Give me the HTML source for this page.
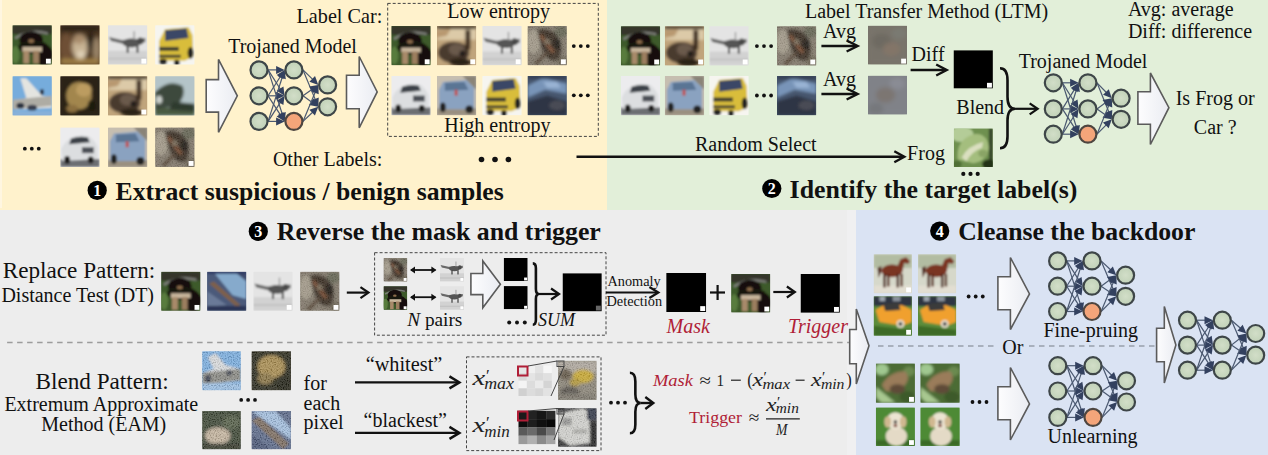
<!DOCTYPE html><html><head><meta charset="utf-8"><style>html,body{margin:0;padding:0;background:#fff;}svg.main{display:block;}</style></head><body><svg class="main" width="1268" height="455" viewBox="0 0 1268 455"><defs><filter id="b1_0" x="-20%" y="-20%" width="140%" height="140%"><feGaussianBlur stdDeviation="1.0"/></filter><filter id="b1_1" x="-20%" y="-20%" width="140%" height="140%"><feGaussianBlur stdDeviation="1.1"/></filter><filter id="b1_2" x="-20%" y="-20%" width="140%" height="140%"><feGaussianBlur stdDeviation="1.2"/></filter><filter id="b1_3" x="-20%" y="-20%" width="140%" height="140%"><feGaussianBlur stdDeviation="1.3"/></filter><filter id="b1_4" x="-20%" y="-20%" width="140%" height="140%"><feGaussianBlur stdDeviation="1.4"/></filter><filter id="b1_5" x="-20%" y="-20%" width="140%" height="140%"><feGaussianBlur stdDeviation="1.5"/></filter><filter id="b1_6" x="-20%" y="-20%" width="140%" height="140%"><feGaussianBlur stdDeviation="1.6"/></filter><filter id="b1_8" x="-20%" y="-20%" width="140%" height="140%"><feGaussianBlur stdDeviation="1.8"/></filter><filter id="b1_9" x="-20%" y="-20%" width="140%" height="140%"><feGaussianBlur stdDeviation="1.9"/></filter><filter id="b2_2" x="-20%" y="-20%" width="140%" height="140%"><feGaussianBlur stdDeviation="2.2"/></filter><filter id="noise" x="0" y="0" width="100%" height="100%"><feTurbulence type="fractalNoise" baseFrequency="0.8" numOctaves="1" seed="5"/><feColorMatrix type="matrix" values="3 0 0 0 -1  3 0 0 0 -1  3 0 0 0 -1  0 0 0 0 0.18"/></filter><radialGradient id="nodeg" cx="0.5" cy="0.5" r="0.55"><stop offset="0" stop-color="#d2dec8"/><stop offset="1" stop-color="#bfd0b6"/></radialGradient><linearGradient id="harrow" x1="0" y1="0" x2="1" y2="0"><stop offset="0" stop-color="#fdfdfe"/><stop offset="1" stop-color="#eaecf2"/></linearGradient></defs><rect x="0" y="0" width="607" height="210" fill="#fff2cc"/>
<rect x="607" y="0" width="661" height="210" fill="#e2efd9"/>
<rect x="0" y="210" width="856" height="245" fill="#ededed"/>
<rect x="856" y="210" width="412" height="245" fill="#dae3f3"/>
<rect x="847" y="210" width="9" height="245" fill="#f0f0f1"/>
<rect x="0" y="0" width="2" height="208" fill="#fff6e0"/>
<svg x="12.5" y="25.3" width="39.3" height="39.3" viewBox="0 0 40 40" preserveAspectRatio="none"><rect width="40" height="40" fill="#3e5a2c"/><g filter="url(#b1_3)"><rect width="40" height="40" fill="#3e5a2c"/><rect x="0" y="0" width="40" height="9" fill="#34342c"/><path d="M2,12 Q18,2 36,7 L36,9.5 Q18,5 3,14.5 Z" fill="#7a7c76"/><ellipse cx="19" cy="15" rx="12" ry="9" fill="#15110d"/><ellipse cx="21" cy="22" rx="15" ry="7" fill="#17130f"/><ellipse cx="32" cy="30" rx="9" ry="11" fill="#15110d"/><rect x="10" y="22" width="20" height="5" fill="#c8b69c"/><rect x="11" y="26" width="6" height="13" fill="#a88a6a"/><rect x="21" y="26" width="6" height="13" fill="#9c7e5e"/><ellipse cx="19" cy="16" rx="3" ry="2" fill="#8a6a4a"/><ellipse cx="3" cy="30" rx="4" ry="9" fill="#587c3e"/></g><rect x="34" y="34" width="5" height="5" fill="#fff"/></svg>
<svg x="60.3" y="25.3" width="39.3" height="39.3" viewBox="0 0 40 40" preserveAspectRatio="none"><rect width="40" height="40" fill="#4e3824"/><g filter="url(#b1_9)"><rect width="40" height="40" fill="#4e3824"/><rect width="40" height="6" fill="#2a2016"/><ellipse cx="6" cy="22" rx="7" ry="14" fill="#6e5036"/><ellipse cx="20" cy="22" rx="8" ry="13" fill="#c8b494"/><ellipse cx="19" cy="14" rx="6" ry="5" fill="#a88c6c"/><ellipse cx="21" cy="30" rx="4" ry="4" fill="#e0d2b8"/><ellipse cx="31" cy="16" rx="4" ry="10" fill="#2c2016"/><ellipse cx="37" cy="24" rx="4" ry="12" fill="#9a8468"/><rect y="34" width="40" height="6" fill="#a08046"/></g></svg>
<svg x="108" y="25.3" width="39.3" height="39.3" viewBox="0 0 40 40" preserveAspectRatio="none"><rect width="40" height="40" fill="#e4e4e4"/><g filter="url(#b1_0)"><rect width="40" height="40" fill="#e4e4e4"/><rect y="26" width="40" height="14" fill="#d2d2d2"/><rect y="33" width="40" height="2" fill="#c2c2c2"/><polygon points="1,12 14,15 30,14 38,13 38,17 24,21 3,16" fill="#686868"/><ellipse cx="24" cy="18" rx="9" ry="4.5" fill="#545454"/><ellipse cx="33" cy="16" rx="3" ry="3.5" fill="#4a4a4a"/><rect x="19" y="21" width="2" height="7" fill="#3e3e3e"/><rect x="29" y="21" width="2" height="7" fill="#3e3e3e"/><rect x="26" y="6" width="1.2" height="9" fill="#8a8a8a"/></g><rect x="34" y="34" width="5" height="5" fill="#fff"/></svg>
<svg x="155.2" y="25.3" width="39.3" height="39.3" viewBox="0 0 40 40" preserveAspectRatio="none"><rect width="40" height="40" fill="#f6f5f0"/><g filter="url(#b1_0)"><rect width="40" height="40" fill="#f6f5f0"/><polygon points="4,16 10,4 34,2 38,10 39,32 30,36 4,36" fill="#d9bd3a"/><polygon points="10,5 32,3 34,13 10,16" fill="#3a4666"/><rect x="4" y="22" width="20" height="4" fill="#3c3c30"/><rect x="4" y="30" width="22" height="3" fill="#4a4430"/><ellipse cx="8" cy="37" rx="4" ry="3" fill="#222"/><ellipse cx="22" cy="38" rx="3" ry="3" fill="#222"/><ellipse cx="36" cy="28" rx="3" ry="6" fill="#222"/></g></svg>
<svg x="12.5" y="76.2" width="39.3" height="39.3" viewBox="0 0 40 40" preserveAspectRatio="none"><rect width="40" height="40" fill="#76acdc"/><g filter="url(#b1_1)"><rect width="40" height="40" fill="#76acdc"/><polygon points="8,2 14,2 30,20 40,22 40,32 4,34 2,28 14,22" fill="#e4e4e0"/><polygon points="0,24 40,20 40,30 0,34" fill="#aeaca4"/><ellipse cx="8" cy="30" rx="4" ry="3" fill="#2a3040"/><ellipse cx="20" cy="32" rx="5" ry="3" fill="#3a4050"/><ellipse cx="30" cy="16" rx="2" ry="3" fill="#2a3040"/><rect y="36" width="40" height="4" fill="#8ab0d8"/></g></svg>
<svg x="60.3" y="76.2" width="39.3" height="39.3" viewBox="0 0 40 40" preserveAspectRatio="none"><rect width="40" height="40" fill="#2a2416"/><g filter="url(#b1_8)"><rect width="40" height="40" fill="#2a2416"/><ellipse cx="19" cy="20" rx="13" ry="14" fill="#a2864e"/><ellipse cx="24" cy="14" rx="8" ry="7" fill="#bc9c60"/><ellipse cx="12" cy="33" rx="6" ry="4" fill="#8c7040"/><ellipse cx="32" cy="30" rx="4" ry="6" fill="#1e1a10"/></g></svg>
<svg x="108" y="76.2" width="39.3" height="39.3" viewBox="0 0 40 40" preserveAspectRatio="none"><rect width="40" height="40" fill="#c0a47c"/><g filter="url(#b1_5)"><rect width="40" height="40" fill="#c0a47c"/><rect width="40" height="14" fill="#dccaa8"/><rect width="40" height="3" fill="#2a2016"/><polygon points="0,4 14,3 10,10 0,12" fill="#b89870"/><ellipse cx="17" cy="27" rx="16" ry="11" fill="#4a3a2e"/><ellipse cx="20" cy="24" rx="8" ry="6" fill="#6a5a4c"/><ellipse cx="26" cy="28" rx="3" ry="3" fill="#1e1812"/><rect x="29" y="4" width="5" height="20" fill="#3a2a1e"/><ellipse cx="24" cy="37" rx="12" ry="4" fill="#2c2218"/></g><rect x="34" y="34" width="5" height="5" fill="#fff"/></svg>
<svg x="155.2" y="76.2" width="39.3" height="39.3" viewBox="0 0 40 40" preserveAspectRatio="none"><rect width="40" height="40" fill="#b4c4c8"/><g filter="url(#b1_5)"><rect width="40" height="40" fill="#b4c4c8"/><rect y="32" width="40" height="8" fill="#4a5a40"/><path d="M0,16 Q14,2 28,10 Q32,20 22,30 L0,34 Z" fill="#3c4a3c"/><polygon points="18,26 40,28 40,36 14,34" fill="#2e3a2e"/><ellipse cx="4" cy="24" rx="3" ry="4" fill="#d0d4d0"/></g></svg>
<svg x="60.3" y="127.6" width="39.3" height="39.3" viewBox="0 0 40 40" preserveAspectRatio="none"><rect width="40" height="40" fill="#ececee"/><g filter="url(#b1_1)"><rect width="40" height="40" fill="#ececee"/><rect y="32" width="40" height="8" fill="#6c6e72"/><path d="M1,22 Q4,14 12,10 Q20,6 30,9 Q36,14 38,20 L38,32 L2,34 Z" fill="#dcdee0"/><path d="M11,11 Q20,8 28,10 L30,15 L9,17 Z" fill="#3c4248"/><rect x="22" y="20" width="12" height="6" fill="#4c5056"/><ellipse cx="7" cy="33" rx="3" ry="4" fill="#1e1e1e"/><ellipse cx="31" cy="33" rx="3" ry="3.5" fill="#1e1e1e"/></g></svg>
<svg x="108" y="127.6" width="39.3" height="39.3" viewBox="0 0 40 40" preserveAspectRatio="none"><rect width="40" height="40" fill="#c6beb0"/><g filter="url(#b1_1)"><rect width="40" height="40" fill="#c6beb0"/><polygon points="26,0 40,0 40,14" fill="#8a8478"/><rect y="33" width="40" height="7" fill="#9a9080"/><polygon points="2,14 6,6 30,4 38,12 38,34 2,34" fill="#8aa2c0"/><polygon points="8,7 28,6 32,14 8,15" fill="#5a7494"/><rect x="18" y="14" width="3" height="6" fill="#c05050"/><ellipse cx="6" cy="32" rx="3" ry="5" fill="#222"/><ellipse cx="33" cy="34" rx="4" ry="4" fill="#222"/></g></svg>
<svg x="155.2" y="127.6" width="39.3" height="39.3" viewBox="0 0 40 40" preserveAspectRatio="none"><rect width="40" height="40" fill="#847c6e"/><g filter="url(#b1_6)"><rect width="40" height="40" fill="#847c6e"/><ellipse cx="6" cy="16" rx="7" ry="12" fill="#a49c8c"/><ellipse cx="34" cy="6" rx="7" ry="6" fill="#6a6a5a"/><path d="M10,4 Q22,0 30,10 Q38,22 32,34 Q24,38 18,30 Q12,20 10,4 Z" fill="#40342a"/><path d="M14,8 L28,26 L25,28 L12,11 Z" fill="#7a5036"/><ellipse cx="30" cy="18" rx="4" ry="6" fill="#28201a"/><path d="M6,38 L18,26 L21,28 L10,40 Z" fill="#5a4a3a"/><ellipse cx="36" cy="36" rx="6" ry="5" fill="#6e6656"/><ellipse cx="20" cy="16" rx="3" ry="3" fill="#7a6e5c"/></g><rect width="40" height="40" filter="url(#noise)" opacity="0.5"/><rect x="34" y="34" width="5" height="5" fill="#fff"/></svg>
<circle cx="24.85" cy="148.7" r="1.9" fill="#111"/>
<circle cx="31.80" cy="148.7" r="1.9" fill="#111"/>
<circle cx="38.75" cy="148.7" r="1.9" fill="#111"/>
<polygon points="206.2,79.6 218.5,79.6 218.5,59.4 237.3,95.8 218.5,132.3 218.5,112.1 206.2,112.1" fill="url(#harrow)" stroke="#5b5b5b" stroke-width="1.6" stroke-linejoin="miter"/>
<text x="228.2" y="53" font-family="Liberation Serif" font-size="20" font-weight="normal" font-style="normal" fill="#111" text-anchor="start" >Trojaned Model</text>
<line x1="268.10" y1="69.90" x2="277.10" y2="69.90" stroke="#4a5870" stroke-width="1.2"/>
<polygon points="284.60,69.90 276.10,73.90 276.10,65.90" fill="#33415f"/>
<line x1="268.10" y1="69.90" x2="280.57" y2="89.47" stroke="#4a5870" stroke-width="1.2"/>
<polygon points="284.60,95.80 276.66,90.78 283.41,86.48" fill="#33415f"/>
<line x1="268.10" y1="69.90" x2="282.31" y2="114.26" stroke="#4a5870" stroke-width="1.2"/>
<polygon points="284.60,121.40 278.20,114.53 285.82,112.08" fill="#33415f"/>
<line x1="268.10" y1="95.80" x2="280.57" y2="76.23" stroke="#4a5870" stroke-width="1.2"/>
<polygon points="284.60,69.90 283.41,79.22 276.66,74.92" fill="#33415f"/>
<line x1="268.10" y1="95.80" x2="277.10" y2="95.80" stroke="#4a5870" stroke-width="1.2"/>
<polygon points="284.60,95.80 276.10,99.80 276.10,91.80" fill="#33415f"/>
<line x1="268.10" y1="95.80" x2="280.54" y2="115.10" stroke="#4a5870" stroke-width="1.2"/>
<polygon points="284.60,121.40 276.63,116.42 283.36,112.09" fill="#33415f"/>
<line x1="268.10" y1="121.40" x2="282.31" y2="77.04" stroke="#4a5870" stroke-width="1.2"/>
<polygon points="284.60,69.90 285.82,79.22 278.20,76.77" fill="#33415f"/>
<line x1="268.10" y1="121.40" x2="280.54" y2="102.10" stroke="#4a5870" stroke-width="1.2"/>
<polygon points="284.60,95.80 283.36,105.11 276.63,100.78" fill="#33415f"/>
<line x1="268.10" y1="121.40" x2="277.10" y2="121.40" stroke="#4a5870" stroke-width="1.2"/>
<polygon points="284.60,121.40 276.10,125.40 276.10,117.40" fill="#33415f"/>
<line x1="303.00" y1="69.90" x2="312.94" y2="79.65" stroke="#4a5870" stroke-width="1.2"/>
<polygon points="318.30,84.90 309.43,81.81 315.03,76.09" fill="#33415f"/>
<line x1="303.00" y1="69.90" x2="315.43" y2="99.87" stroke="#4a5870" stroke-width="1.2"/>
<polygon points="318.30,106.80 311.35,100.48 318.74,97.42" fill="#33415f"/>
<line x1="303.00" y1="95.80" x2="312.19" y2="89.25" stroke="#4a5870" stroke-width="1.2"/>
<polygon points="318.30,84.90 313.70,93.09 309.06,86.57" fill="#33415f"/>
<line x1="303.00" y1="95.80" x2="312.21" y2="102.42" stroke="#4a5870" stroke-width="1.2"/>
<polygon points="318.30,106.80 309.06,105.09 313.73,98.59" fill="#33415f"/>
<line x1="303.00" y1="121.40" x2="315.40" y2="91.82" stroke="#4a5870" stroke-width="1.2"/>
<polygon points="318.30,84.90 318.70,94.29 311.32,91.19" fill="#33415f"/>
<line x1="303.00" y1="121.40" x2="312.87" y2="111.98" stroke="#4a5870" stroke-width="1.2"/>
<polygon points="318.30,106.80 314.91,115.56 309.39,109.77" fill="#33415f"/>
<circle cx="259" cy="69.9" r="8.5" fill="url(#nodeg)" stroke="#3e4648" stroke-width="2.2"/>
<circle cx="259" cy="95.8" r="8.5" fill="url(#nodeg)" stroke="#3e4648" stroke-width="2.2"/>
<circle cx="259" cy="121.4" r="8.5" fill="url(#nodeg)" stroke="#3e4648" stroke-width="2.2"/>
<circle cx="293.9" cy="69.9" r="8.5" fill="url(#nodeg)" stroke="#3e4648" stroke-width="2.2"/>
<circle cx="293.9" cy="95.8" r="8.5" fill="url(#nodeg)" stroke="#3e4648" stroke-width="2.2"/>
<circle cx="293.9" cy="121.4" r="8.5" fill="#f4a57a" stroke="#4e4640" stroke-width="2.2"/>
<circle cx="327.6" cy="84.9" r="8.5" fill="url(#nodeg)" stroke="#3e4648" stroke-width="2.2"/>
<circle cx="327.6" cy="106.8" r="8.5" fill="url(#nodeg)" stroke="#3e4648" stroke-width="2.2"/>
<polygon points="346.5,75.3 359.2,75.3 359.2,56.5 377.2,91.9 359.2,127.8 359.2,108.7 346.5,108.7" fill="url(#harrow)" stroke="#5b5b5b" stroke-width="1.6" stroke-linejoin="miter"/>
<text x="296.5" y="22.8" font-family="Liberation Serif" font-size="20.2" font-weight="normal" font-style="normal" fill="#111" text-anchor="start" >Label Car:</text>
<rect x="387.7" y="3.4" width="210.59999999999997" height="133.0" fill="none" stroke="#444" stroke-width="1" stroke-dasharray="3,2"/>
<text x="447.3" y="18.3" font-family="Liberation Serif" font-size="20" font-weight="normal" font-style="normal" fill="#111" text-anchor="start" >Low entropy</text>
<text x="444.3" y="131.6" font-family="Liberation Serif" font-size="20" font-weight="normal" font-style="normal" fill="#111" text-anchor="start" >High entropy</text>
<svg x="391.4" y="26" width="39.2" height="39.2" viewBox="0 0 40 40" preserveAspectRatio="none"><rect width="40" height="40" fill="#3e5a2c"/><g filter="url(#b1_3)"><rect width="40" height="40" fill="#3e5a2c"/><rect x="0" y="0" width="40" height="9" fill="#34342c"/><path d="M2,12 Q18,2 36,7 L36,9.5 Q18,5 3,14.5 Z" fill="#7a7c76"/><ellipse cx="19" cy="15" rx="12" ry="9" fill="#15110d"/><ellipse cx="21" cy="22" rx="15" ry="7" fill="#17130f"/><ellipse cx="32" cy="30" rx="9" ry="11" fill="#15110d"/><rect x="10" y="22" width="20" height="5" fill="#c8b69c"/><rect x="11" y="26" width="6" height="13" fill="#a88a6a"/><rect x="21" y="26" width="6" height="13" fill="#9c7e5e"/><ellipse cx="19" cy="16" rx="3" ry="2" fill="#8a6a4a"/><ellipse cx="3" cy="30" rx="4" ry="9" fill="#587c3e"/></g><rect x="34" y="34" width="5" height="5" fill="#fff"/></svg>
<svg x="437" y="26" width="39.2" height="39.2" viewBox="0 0 40 40" preserveAspectRatio="none"><rect width="40" height="40" fill="#c0a47c"/><g filter="url(#b1_5)"><rect width="40" height="40" fill="#c0a47c"/><rect width="40" height="14" fill="#dccaa8"/><rect width="40" height="3" fill="#2a2016"/><polygon points="0,4 14,3 10,10 0,12" fill="#b89870"/><ellipse cx="17" cy="27" rx="16" ry="11" fill="#4a3a2e"/><ellipse cx="20" cy="24" rx="8" ry="6" fill="#6a5a4c"/><ellipse cx="26" cy="28" rx="3" ry="3" fill="#1e1812"/><rect x="29" y="4" width="5" height="20" fill="#3a2a1e"/><ellipse cx="24" cy="37" rx="12" ry="4" fill="#2c2218"/></g><rect x="34" y="34" width="5" height="5" fill="#fff"/></svg>
<svg x="482.4" y="26" width="39.2" height="39.2" viewBox="0 0 40 40" preserveAspectRatio="none"><rect width="40" height="40" fill="#e4e4e4"/><g filter="url(#b1_0)"><rect width="40" height="40" fill="#e4e4e4"/><rect y="26" width="40" height="14" fill="#d2d2d2"/><rect y="33" width="40" height="2" fill="#c2c2c2"/><polygon points="1,12 14,15 30,14 38,13 38,17 24,21 3,16" fill="#686868"/><ellipse cx="24" cy="18" rx="9" ry="4.5" fill="#545454"/><ellipse cx="33" cy="16" rx="3" ry="3.5" fill="#4a4a4a"/><rect x="19" y="21" width="2" height="7" fill="#3e3e3e"/><rect x="29" y="21" width="2" height="7" fill="#3e3e3e"/><rect x="26" y="6" width="1.2" height="9" fill="#8a8a8a"/></g><rect x="34" y="34" width="5" height="5" fill="#fff"/></svg>
<svg x="527.6" y="26" width="39.2" height="39.2" viewBox="0 0 40 40" preserveAspectRatio="none"><rect width="40" height="40" fill="#847c6e"/><g filter="url(#b1_6)"><rect width="40" height="40" fill="#847c6e"/><ellipse cx="6" cy="16" rx="7" ry="12" fill="#a49c8c"/><ellipse cx="34" cy="6" rx="7" ry="6" fill="#6a6a5a"/><path d="M10,4 Q22,0 30,10 Q38,22 32,34 Q24,38 18,30 Q12,20 10,4 Z" fill="#40342a"/><path d="M14,8 L28,26 L25,28 L12,11 Z" fill="#7a5036"/><ellipse cx="30" cy="18" rx="4" ry="6" fill="#28201a"/><path d="M6,38 L18,26 L21,28 L10,40 Z" fill="#5a4a3a"/><ellipse cx="36" cy="36" rx="6" ry="5" fill="#6e6656"/><ellipse cx="20" cy="16" rx="3" ry="3" fill="#7a6e5c"/></g><rect width="40" height="40" filter="url(#noise)" opacity="0.5"/><rect x="34" y="34" width="5" height="5" fill="#fff"/></svg>
<svg x="391.4" y="76" width="39.2" height="39.2" viewBox="0 0 40 40" preserveAspectRatio="none"><rect width="40" height="40" fill="#ececee"/><g filter="url(#b1_1)"><rect width="40" height="40" fill="#ececee"/><rect y="32" width="40" height="8" fill="#6c6e72"/><path d="M1,22 Q4,14 12,10 Q20,6 30,9 Q36,14 38,20 L38,32 L2,34 Z" fill="#dcdee0"/><path d="M11,11 Q20,8 28,10 L30,15 L9,17 Z" fill="#3c4248"/><rect x="22" y="20" width="12" height="6" fill="#4c5056"/><ellipse cx="7" cy="33" rx="3" ry="4" fill="#1e1e1e"/><ellipse cx="31" cy="33" rx="3" ry="3.5" fill="#1e1e1e"/></g></svg>
<svg x="437" y="76" width="39.2" height="39.2" viewBox="0 0 40 40" preserveAspectRatio="none"><rect width="40" height="40" fill="#c6beb0"/><g filter="url(#b1_1)"><rect width="40" height="40" fill="#c6beb0"/><polygon points="26,0 40,0 40,14" fill="#8a8478"/><rect y="33" width="40" height="7" fill="#9a9080"/><polygon points="2,14 6,6 30,4 38,12 38,34 2,34" fill="#8aa2c0"/><polygon points="8,7 28,6 32,14 8,15" fill="#5a7494"/><rect x="18" y="14" width="3" height="6" fill="#c05050"/><ellipse cx="6" cy="32" rx="3" ry="5" fill="#222"/><ellipse cx="33" cy="34" rx="4" ry="4" fill="#222"/></g></svg>
<svg x="482.4" y="76" width="39.2" height="39.2" viewBox="0 0 40 40" preserveAspectRatio="none"><rect width="40" height="40" fill="#f6f5f0"/><g filter="url(#b1_0)"><rect width="40" height="40" fill="#f6f5f0"/><polygon points="4,16 10,4 34,2 38,10 39,32 30,36 4,36" fill="#d9bd3a"/><polygon points="10,5 32,3 34,13 10,16" fill="#3a4666"/><rect x="4" y="22" width="20" height="4" fill="#3c3c30"/><rect x="4" y="30" width="22" height="3" fill="#4a4430"/><ellipse cx="8" cy="37" rx="4" ry="3" fill="#222"/><ellipse cx="22" cy="38" rx="3" ry="3" fill="#222"/><ellipse cx="36" cy="28" rx="3" ry="6" fill="#222"/></g></svg>
<svg x="527.6" y="76" width="39.2" height="39.2" viewBox="0 0 40 40" preserveAspectRatio="none"><rect width="40" height="40" fill="#46566e"/><g filter="url(#b1_4)"><rect width="40" height="40" fill="#46566e"/><polygon points="0,10 16,2 40,8 40,18 18,14 0,22" fill="#7894b8"/><polygon points="16,6 30,6 34,12 20,12" fill="#9ab4d4"/><polygon points="0,26 20,20 40,26 40,40 0,40" fill="#2e3444"/><ellipse cx="30" cy="30" rx="8" ry="5" fill="#4a4c54"/><rect x="0" y="0" width="40" height="3" fill="#303a50"/></g></svg>
<circle cx="573.80" cy="46.1" r="1.9" fill="#111"/>
<circle cx="580.80" cy="46.1" r="1.9" fill="#111"/>
<circle cx="587.80" cy="46.1" r="1.9" fill="#111"/>
<circle cx="573.80" cy="95.3" r="1.9" fill="#111"/>
<circle cx="580.80" cy="95.3" r="1.9" fill="#111"/>
<circle cx="587.80" cy="95.3" r="1.9" fill="#111"/>
<text x="272.9" y="166.3" font-family="Liberation Serif" font-size="20" font-weight="normal" font-style="normal" fill="#111" text-anchor="start" >Other Labels:</text>
<circle cx="481.5" cy="159.5" r="2.8" fill="#111"/>
<circle cx="495" cy="159.5" r="2.8" fill="#111"/>
<circle cx="508.4" cy="159.5" r="2.8" fill="#111"/>
<circle cx="97.2" cy="190.4" r="9.6" fill="#000"/>
<text x="97.2" y="195.8" font-family="Liberation Serif" font-size="16" font-weight="bold" fill="#fff" text-anchor="middle">1</text>
<text x="115.5" y="199.7" font-family="Liberation Serif" font-size="25.7" font-weight="bold" font-style="normal" fill="#111" text-anchor="start" >Extract suspicious / benign samples</text>
<line x1="576.5" y1="156.8" x2="903.31" y2="156.80" stroke="#111" stroke-width="2.4"/>
<polyline points="894.31,162.30 904.31,156.80 894.31,151.30" fill="none" stroke="#111" stroke-width="2.4" stroke-linejoin="miter" stroke-linecap="butt"/>
<text x="695.0" y="151.2" font-family="Liberation Serif" font-size="20" font-weight="normal" font-style="normal" fill="#111" text-anchor="start" >Random Select</text>
<svg x="620.9" y="26.2" width="39.2" height="39.2" viewBox="0 0 40 40" preserveAspectRatio="none"><rect width="40" height="40" fill="#3e5a2c"/><g filter="url(#b1_3)"><rect width="40" height="40" fill="#3e5a2c"/><rect x="0" y="0" width="40" height="9" fill="#34342c"/><path d="M2,12 Q18,2 36,7 L36,9.5 Q18,5 3,14.5 Z" fill="#7a7c76"/><ellipse cx="19" cy="15" rx="12" ry="9" fill="#15110d"/><ellipse cx="21" cy="22" rx="15" ry="7" fill="#17130f"/><ellipse cx="32" cy="30" rx="9" ry="11" fill="#15110d"/><rect x="10" y="22" width="20" height="5" fill="#c8b69c"/><rect x="11" y="26" width="6" height="13" fill="#a88a6a"/><rect x="21" y="26" width="6" height="13" fill="#9c7e5e"/><ellipse cx="19" cy="16" rx="3" ry="2" fill="#8a6a4a"/><ellipse cx="3" cy="30" rx="4" ry="9" fill="#587c3e"/></g><rect x="34" y="34" width="5" height="5" fill="#fff"/></svg>
<svg x="664.9" y="26.2" width="39.2" height="39.2" viewBox="0 0 40 40" preserveAspectRatio="none"><rect width="40" height="40" fill="#c0a47c"/><g filter="url(#b1_5)"><rect width="40" height="40" fill="#c0a47c"/><rect width="40" height="14" fill="#dccaa8"/><rect width="40" height="3" fill="#2a2016"/><polygon points="0,4 14,3 10,10 0,12" fill="#b89870"/><ellipse cx="17" cy="27" rx="16" ry="11" fill="#4a3a2e"/><ellipse cx="20" cy="24" rx="8" ry="6" fill="#6a5a4c"/><ellipse cx="26" cy="28" rx="3" ry="3" fill="#1e1812"/><rect x="29" y="4" width="5" height="20" fill="#3a2a1e"/><ellipse cx="24" cy="37" rx="12" ry="4" fill="#2c2218"/></g><rect x="34" y="34" width="5" height="5" fill="#fff"/></svg>
<svg x="709.4" y="26.2" width="39.2" height="39.2" viewBox="0 0 40 40" preserveAspectRatio="none"><rect width="40" height="40" fill="#e4e4e4"/><g filter="url(#b1_0)"><rect width="40" height="40" fill="#e4e4e4"/><rect y="26" width="40" height="14" fill="#d2d2d2"/><rect y="33" width="40" height="2" fill="#c2c2c2"/><polygon points="1,12 14,15 30,14 38,13 38,17 24,21 3,16" fill="#686868"/><ellipse cx="24" cy="18" rx="9" ry="4.5" fill="#545454"/><ellipse cx="33" cy="16" rx="3" ry="3.5" fill="#4a4a4a"/><rect x="19" y="21" width="2" height="7" fill="#3e3e3e"/><rect x="29" y="21" width="2" height="7" fill="#3e3e3e"/><rect x="26" y="6" width="1.2" height="9" fill="#8a8a8a"/></g><rect x="34" y="34" width="5" height="5" fill="#fff"/></svg>
<svg x="777" y="26.2" width="39.2" height="39.2" viewBox="0 0 40 40" preserveAspectRatio="none"><rect width="40" height="40" fill="#847c6e"/><g filter="url(#b1_6)"><rect width="40" height="40" fill="#847c6e"/><ellipse cx="6" cy="16" rx="7" ry="12" fill="#a49c8c"/><ellipse cx="34" cy="6" rx="7" ry="6" fill="#6a6a5a"/><path d="M10,4 Q22,0 30,10 Q38,22 32,34 Q24,38 18,30 Q12,20 10,4 Z" fill="#40342a"/><path d="M14,8 L28,26 L25,28 L12,11 Z" fill="#7a5036"/><ellipse cx="30" cy="18" rx="4" ry="6" fill="#28201a"/><path d="M6,38 L18,26 L21,28 L10,40 Z" fill="#5a4a3a"/><ellipse cx="36" cy="36" rx="6" ry="5" fill="#6e6656"/><ellipse cx="20" cy="16" rx="3" ry="3" fill="#7a6e5c"/></g><rect width="40" height="40" filter="url(#noise)" opacity="0.5"/><rect x="34" y="34" width="5" height="5" fill="#fff"/></svg>
<svg x="620.9" y="76" width="39.2" height="39.2" viewBox="0 0 40 40" preserveAspectRatio="none"><rect width="40" height="40" fill="#ececee"/><g filter="url(#b1_1)"><rect width="40" height="40" fill="#ececee"/><rect y="32" width="40" height="8" fill="#6c6e72"/><path d="M1,22 Q4,14 12,10 Q20,6 30,9 Q36,14 38,20 L38,32 L2,34 Z" fill="#dcdee0"/><path d="M11,11 Q20,8 28,10 L30,15 L9,17 Z" fill="#3c4248"/><rect x="22" y="20" width="12" height="6" fill="#4c5056"/><ellipse cx="7" cy="33" rx="3" ry="4" fill="#1e1e1e"/><ellipse cx="31" cy="33" rx="3" ry="3.5" fill="#1e1e1e"/></g></svg>
<svg x="664.9" y="76" width="39.2" height="39.2" viewBox="0 0 40 40" preserveAspectRatio="none"><rect width="40" height="40" fill="#c6beb0"/><g filter="url(#b1_1)"><rect width="40" height="40" fill="#c6beb0"/><polygon points="26,0 40,0 40,14" fill="#8a8478"/><rect y="33" width="40" height="7" fill="#9a9080"/><polygon points="2,14 6,6 30,4 38,12 38,34 2,34" fill="#8aa2c0"/><polygon points="8,7 28,6 32,14 8,15" fill="#5a7494"/><rect x="18" y="14" width="3" height="6" fill="#c05050"/><ellipse cx="6" cy="32" rx="3" ry="5" fill="#222"/><ellipse cx="33" cy="34" rx="4" ry="4" fill="#222"/></g></svg>
<svg x="709.4" y="76" width="39.2" height="39.2" viewBox="0 0 40 40" preserveAspectRatio="none"><rect width="40" height="40" fill="#f6f5f0"/><g filter="url(#b1_0)"><rect width="40" height="40" fill="#f6f5f0"/><polygon points="4,16 10,4 34,2 38,10 39,32 30,36 4,36" fill="#d9bd3a"/><polygon points="10,5 32,3 34,13 10,16" fill="#3a4666"/><rect x="4" y="22" width="20" height="4" fill="#3c3c30"/><rect x="4" y="30" width="22" height="3" fill="#4a4430"/><ellipse cx="8" cy="37" rx="4" ry="3" fill="#222"/><ellipse cx="22" cy="38" rx="3" ry="3" fill="#222"/><ellipse cx="36" cy="28" rx="3" ry="6" fill="#222"/></g></svg>
<svg x="777" y="76" width="39.2" height="39.2" viewBox="0 0 40 40" preserveAspectRatio="none"><rect width="40" height="40" fill="#46566e"/><g filter="url(#b1_4)"><rect width="40" height="40" fill="#46566e"/><polygon points="0,10 16,2 40,8 40,18 18,14 0,22" fill="#7894b8"/><polygon points="16,6 30,6 34,12 20,12" fill="#9ab4d4"/><polygon points="0,26 20,20 40,26 40,40 0,40" fill="#2e3444"/><ellipse cx="30" cy="30" rx="8" ry="5" fill="#4a4c54"/><rect x="0" y="0" width="40" height="3" fill="#303a50"/></g></svg>
<circle cx="756.90" cy="46.1" r="1.9" fill="#111"/>
<circle cx="764.00" cy="46.1" r="1.9" fill="#111"/>
<circle cx="771.10" cy="46.1" r="1.9" fill="#111"/>
<circle cx="756.90" cy="95.5" r="1.9" fill="#111"/>
<circle cx="764.00" cy="95.5" r="1.9" fill="#111"/>
<circle cx="771.10" cy="95.5" r="1.9" fill="#111"/>
<text x="805.0" y="18.2" font-family="Liberation Serif" font-size="20" font-weight="normal" font-style="normal" fill="#111" text-anchor="start" >Label Transfer Method (LTM)</text>
<text x="823.0" y="38.3" font-family="Liberation Serif" font-size="20" font-weight="normal" font-style="normal" fill="#111" text-anchor="start" >Avg</text>
<line x1="821.4" y1="46" x2="856.62" y2="46.00" stroke="#111" stroke-width="2.4"/>
<polyline points="846.62,51.50 857.62,46.00 846.62,40.50" fill="none" stroke="#111" stroke-width="2.4" stroke-linejoin="miter" stroke-linecap="butt"/>
<text x="823.0" y="85.7" font-family="Liberation Serif" font-size="20" font-weight="normal" font-style="normal" fill="#111" text-anchor="start" >Avg</text>
<line x1="821.4" y1="94" x2="856.62" y2="94.00" stroke="#111" stroke-width="2.4"/>
<polyline points="846.62,99.50 857.62,94.00 846.62,88.50" fill="none" stroke="#111" stroke-width="2.4" stroke-linejoin="miter" stroke-linecap="butt"/>
<svg x="868" y="25.7" width="39" height="38.8" viewBox="0 0 40 40" preserveAspectRatio="none"><rect width="40" height="40" fill="#78736a"/><g filter="url(#b2_2)"><rect width="40" height="40" fill="#78736a"/><ellipse cx="14" cy="16" rx="10" ry="8" fill="#6e6a62"/><ellipse cx="24" cy="24" rx="9" ry="7" fill="#837568"/><ellipse cx="32" cy="8" rx="8" ry="6" fill="#7a7a72"/></g><rect x="34" y="34" width="5" height="5" fill="#fff"/></svg>
<svg x="868" y="75.7" width="39" height="38.8" viewBox="0 0 40 40" preserveAspectRatio="none"><rect width="40" height="40" fill="#808288"/><g filter="url(#b2_2)"><rect width="40" height="40" fill="#808288"/><ellipse cx="18" cy="20" rx="10" ry="8" fill="#7c7672"/><ellipse cx="30" cy="8" rx="8" ry="6" fill="#8a8c94"/><ellipse cx="8" cy="34" rx="8" ry="6" fill="#76787c"/></g></svg>
<text x="911.6" y="60.6" font-family="Liberation Serif" font-size="20" font-weight="normal" font-style="normal" fill="#111" text-anchor="start" >Diff</text>
<line x1="910.6" y1="70" x2="945.71" y2="70.00" stroke="#111" stroke-width="2.4"/>
<polyline points="936.21,75.50 946.71,70.00 936.21,64.50" fill="none" stroke="#111" stroke-width="2.4" stroke-linejoin="miter" stroke-linecap="butt"/>
<svg x="953.5" y="50.2" width="39.4" height="38.4" viewBox="0 0 40 40" preserveAspectRatio="none"><rect width="40" height="40" fill="#000"/><rect x="34" y="34" width="5" height="5" fill="#fff"/></svg>
<text x="956.3" y="113.7" font-family="Liberation Serif" font-size="20" font-weight="normal" font-style="normal" fill="#111" text-anchor="start" >Blend</text>
<svg x="953.9" y="128.5" width="38.9" height="38.6" viewBox="0 0 40 40" preserveAspectRatio="none"><rect width="40" height="40" fill="#6e9050"/><g filter="url(#b1_3)"><rect width="40" height="40" fill="#6e9050"/><ellipse cx="8" cy="6" rx="12" ry="8" fill="#b4cc98"/><path d="M4,32 Q2,12 20,6 Q34,4 36,20 Q34,34 20,36 Z" fill="#a4be7e"/><path d="M8,30 Q14,18 30,14 L29,20 Q18,24 13,34 Z" fill="#dadfc0"/><ellipse cx="30" cy="26" rx="5" ry="4" fill="#8aa466"/><rect x="36" y="0" width="4" height="40" fill="#34442a"/><ellipse cx="36" cy="37" rx="7" ry="5" fill="#243018"/><ellipse cx="3" cy="37" rx="5" ry="4" fill="#506e34"/></g></svg>
<text x="907.1" y="159.8" font-family="Liberation Serif" font-size="20" font-weight="normal" font-style="normal" fill="#111" text-anchor="start" >Frog</text>
<circle cx="963.30" cy="173.9" r="2.1" fill="#111"/>
<circle cx="970.50" cy="173.9" r="2.1" fill="#111"/>
<circle cx="977.70" cy="173.9" r="2.1" fill="#111"/>
<path d="M1000,68.2 Q1007.5,68.2 1007.5,80.2 L1007.5,96.8 Q1007.5,108.8 1015,108.8 Q1007.5,108.8 1007.5,120.8 L1007.5,136.3 Q1007.5,148.3 1000,148.3" fill="none" stroke="#111" stroke-width="2.6"/>
<line x1="1015" y1="108.8" x2="1036.66" y2="108.80" stroke="#111" stroke-width="2.2"/>
<polyline points="1029.66,114.30 1037.66,108.80 1029.66,103.30" fill="none" stroke="#111" stroke-width="2.2" stroke-linejoin="miter" stroke-linecap="butt"/>
<text x="1018.7" y="67.7" font-family="Liberation Serif" font-size="20" font-weight="normal" font-style="normal" fill="#111" text-anchor="start" >Trojaned Model</text>
<line x1="1062.40" y1="82.80" x2="1071.10" y2="82.80" stroke="#4a5870" stroke-width="1.2"/>
<polygon points="1078.60,82.80 1070.10,86.80 1070.10,78.80" fill="#33415f"/>
<line x1="1062.40" y1="82.80" x2="1074.64" y2="102.53" stroke="#4a5870" stroke-width="1.2"/>
<polygon points="1078.60,108.90 1070.72,103.79 1077.52,99.57" fill="#33415f"/>
<line x1="1062.40" y1="82.80" x2="1076.35" y2="127.05" stroke="#4a5870" stroke-width="1.2"/>
<polygon points="1078.60,134.20 1072.23,127.30 1079.86,124.89" fill="#33415f"/>
<line x1="1062.40" y1="108.90" x2="1074.64" y2="89.17" stroke="#4a5870" stroke-width="1.2"/>
<polygon points="1078.60,82.80 1077.52,92.13 1070.72,87.91" fill="#33415f"/>
<line x1="1062.40" y1="108.90" x2="1071.10" y2="108.90" stroke="#4a5870" stroke-width="1.2"/>
<polygon points="1078.60,108.90 1070.10,112.90 1070.10,104.90" fill="#33415f"/>
<line x1="1062.40" y1="108.90" x2="1074.56" y2="127.88" stroke="#4a5870" stroke-width="1.2"/>
<polygon points="1078.60,134.20 1070.65,129.20 1077.39,124.88" fill="#33415f"/>
<line x1="1062.40" y1="134.20" x2="1076.35" y2="89.95" stroke="#4a5870" stroke-width="1.2"/>
<polygon points="1078.60,82.80 1079.86,92.11 1072.23,89.70" fill="#33415f"/>
<line x1="1062.40" y1="134.20" x2="1074.56" y2="115.22" stroke="#4a5870" stroke-width="1.2"/>
<polygon points="1078.60,108.90 1077.39,118.22 1070.65,113.90" fill="#33415f"/>
<line x1="1062.40" y1="134.20" x2="1071.10" y2="134.20" stroke="#4a5870" stroke-width="1.2"/>
<polygon points="1078.60,134.20 1070.10,138.20 1070.10,130.20" fill="#33415f"/>
<line x1="1097.00" y1="82.80" x2="1106.60" y2="92.79" stroke="#4a5870" stroke-width="1.2"/>
<polygon points="1111.80,98.20 1103.03,94.84 1108.79,89.30" fill="#33415f"/>
<line x1="1097.00" y1="82.80" x2="1108.98" y2="112.35" stroke="#4a5870" stroke-width="1.2"/>
<polygon points="1111.80,119.30 1104.90,112.93 1112.31,109.92" fill="#33415f"/>
<line x1="1097.00" y1="108.90" x2="1105.72" y2="102.59" stroke="#4a5870" stroke-width="1.2"/>
<polygon points="1111.80,98.20 1107.26,106.42 1102.57,99.94" fill="#33415f"/>
<line x1="1097.00" y1="108.90" x2="1105.66" y2="114.99" stroke="#4a5870" stroke-width="1.2"/>
<polygon points="1111.80,119.30 1102.55,117.69 1107.15,111.14" fill="#33415f"/>
<line x1="1097.00" y1="134.20" x2="1108.95" y2="105.14" stroke="#4a5870" stroke-width="1.2"/>
<polygon points="1111.80,98.20 1112.27,107.58 1104.87,104.54" fill="#33415f"/>
<line x1="1097.00" y1="134.20" x2="1106.51" y2="124.62" stroke="#4a5870" stroke-width="1.2"/>
<polygon points="1111.80,119.30 1108.65,128.15 1102.97,122.51" fill="#33415f"/>
<circle cx="1053.3" cy="82.8" r="8.5" fill="url(#nodeg)" stroke="#3e4648" stroke-width="2.2"/>
<circle cx="1053.3" cy="108.9" r="8.5" fill="url(#nodeg)" stroke="#3e4648" stroke-width="2.2"/>
<circle cx="1053.3" cy="134.2" r="8.5" fill="url(#nodeg)" stroke="#3e4648" stroke-width="2.2"/>
<circle cx="1087.9" cy="82.8" r="8.5" fill="url(#nodeg)" stroke="#3e4648" stroke-width="2.2"/>
<circle cx="1087.9" cy="108.9" r="8.5" fill="url(#nodeg)" stroke="#3e4648" stroke-width="2.2"/>
<circle cx="1087.9" cy="134.2" r="8.5" fill="#f4a57a" stroke="#4e4640" stroke-width="2.2"/>
<circle cx="1121.1" cy="98.2" r="8.5" fill="url(#nodeg)" stroke="#3e4648" stroke-width="2.2"/>
<circle cx="1121.1" cy="119.3" r="8.5" fill="url(#nodeg)" stroke="#3e4648" stroke-width="2.2"/>
<polygon points="1137.9,91.7 1150.4,91.7 1150.4,73 1168.9,107.7 1150.4,144.5 1150.4,124.3 1137.9,124.3" fill="url(#harrow)" stroke="#5b5b5b" stroke-width="1.6" stroke-linejoin="miter"/>
<text x="1175.7" y="105.2" font-family="Liberation Serif" font-size="20" font-weight="normal" font-style="normal" fill="#111" text-anchor="start" >Is Frog or</text>
<text x="1193.8" y="134.2" font-family="Liberation Serif" font-size="20" font-weight="normal" font-style="normal" fill="#111" text-anchor="start" >Car ?</text>
<text x="1127.9" y="16.1" font-family="Liberation Serif" font-size="20" font-weight="normal" font-style="normal" fill="#111" text-anchor="start" >Avg: average</text>
<text x="1127.9" y="37.6" font-family="Liberation Serif" font-size="20" font-weight="normal" font-style="normal" fill="#111" text-anchor="start" >Diff: difference</text>
<circle cx="771.8" cy="188.5" r="9.6" fill="#000"/>
<text x="771.8" y="193.9" font-family="Liberation Serif" font-size="16" font-weight="bold" fill="#fff" text-anchor="middle">2</text>
<text x="789.6" y="197.5" font-family="Liberation Serif" font-size="25.85" font-weight="bold" font-style="normal" fill="#111" text-anchor="start" >Identify the target label(s)</text>
<circle cx="258.3" cy="231.4" r="9.6" fill="#000"/>
<text x="258.3" y="236.8" font-family="Liberation Serif" font-size="16" font-weight="bold" fill="#fff" text-anchor="middle">3</text>
<text x="276.8" y="240.2" font-family="Liberation Serif" font-size="25.82" font-weight="bold" font-style="normal" fill="#111" text-anchor="start" >Reverse the mask and trigger</text>
<text x="2.7" y="278.1" font-family="Liberation Serif" font-size="23.2" font-weight="normal" font-style="normal" fill="#111" text-anchor="start" >Replace Pattern:</text>
<text x="1.4" y="301.8" font-family="Liberation Serif" font-size="20" font-weight="normal" font-style="normal" fill="#111" text-anchor="start" >Distance Test (DT)</text>
<svg x="161.2" y="271.8" width="39.2" height="39" viewBox="0 0 40 40" preserveAspectRatio="none"><rect width="40" height="40" fill="#3e5a2c"/><g filter="url(#b1_3)"><rect width="40" height="40" fill="#3e5a2c"/><rect x="0" y="0" width="40" height="9" fill="#34342c"/><path d="M2,12 Q18,2 36,7 L36,9.5 Q18,5 3,14.5 Z" fill="#7a7c76"/><ellipse cx="19" cy="15" rx="12" ry="9" fill="#15110d"/><ellipse cx="21" cy="22" rx="15" ry="7" fill="#17130f"/><ellipse cx="32" cy="30" rx="9" ry="11" fill="#15110d"/><rect x="10" y="22" width="20" height="5" fill="#c8b69c"/><rect x="11" y="26" width="6" height="13" fill="#a88a6a"/><rect x="21" y="26" width="6" height="13" fill="#9c7e5e"/><ellipse cx="19" cy="16" rx="3" ry="2" fill="#8a6a4a"/><ellipse cx="3" cy="30" rx="4" ry="9" fill="#587c3e"/></g><rect x="34" y="34" width="5" height="5" fill="#fff"/></svg>
<svg x="207.1" y="271.8" width="39.2" height="39" viewBox="0 0 40 40" preserveAspectRatio="none"><rect width="40" height="40" fill="#4c5a7a"/><g filter="url(#b1_3)"><rect width="40" height="40" fill="#4c5a7a"/><polygon points="8,2 28,0 40,10 40,28 26,24" fill="#86aacc"/><polygon points="28,0 40,0 40,8" fill="#3c4a6a"/><polygon points="2,12 7,10 34,34 30,36" fill="#7e604c"/><polygon points="0,20 20,34 0,36" fill="#6a7a98"/><rect y="35" width="40" height="5" fill="#2c3656"/><rect width="40" height="2" fill="#2a3662"/></g></svg>
<svg x="253.4" y="271.8" width="39.2" height="39" viewBox="0 0 40 40" preserveAspectRatio="none"><rect width="40" height="40" fill="#e4e4e4"/><g filter="url(#b1_0)"><rect width="40" height="40" fill="#e4e4e4"/><rect y="26" width="40" height="14" fill="#d2d2d2"/><rect y="33" width="40" height="2" fill="#c2c2c2"/><polygon points="1,12 14,15 30,14 38,13 38,17 24,21 3,16" fill="#686868"/><ellipse cx="24" cy="18" rx="9" ry="4.5" fill="#545454"/><ellipse cx="33" cy="16" rx="3" ry="3.5" fill="#4a4a4a"/><rect x="19" y="21" width="2" height="7" fill="#3e3e3e"/><rect x="29" y="21" width="2" height="7" fill="#3e3e3e"/><rect x="26" y="6" width="1.2" height="9" fill="#8a8a8a"/></g><rect x="34" y="34" width="5" height="5" fill="#fff"/></svg>
<svg x="300.2" y="271.8" width="39.2" height="39" viewBox="0 0 40 40" preserveAspectRatio="none"><rect width="40" height="40" fill="#847c6e"/><g filter="url(#b1_6)"><rect width="40" height="40" fill="#847c6e"/><ellipse cx="6" cy="16" rx="7" ry="12" fill="#a49c8c"/><ellipse cx="34" cy="6" rx="7" ry="6" fill="#6a6a5a"/><path d="M10,4 Q22,0 30,10 Q38,22 32,34 Q24,38 18,30 Q12,20 10,4 Z" fill="#40342a"/><path d="M14,8 L28,26 L25,28 L12,11 Z" fill="#7a5036"/><ellipse cx="30" cy="18" rx="4" ry="6" fill="#28201a"/><path d="M6,38 L18,26 L21,28 L10,40 Z" fill="#5a4a3a"/><ellipse cx="36" cy="36" rx="6" ry="5" fill="#6e6656"/><ellipse cx="20" cy="16" rx="3" ry="3" fill="#7a6e5c"/></g><rect width="40" height="40" filter="url(#noise)" opacity="0.5"/><rect x="34" y="34" width="5" height="5" fill="#fff"/></svg>
<line x1="346.8" y1="292.6" x2="367.46" y2="292.60" stroke="#111" stroke-width="2.2"/>
<polyline points="360.46,298.10 368.46,292.60 360.46,287.10" fill="none" stroke="#111" stroke-width="2.2" stroke-linejoin="miter" stroke-linecap="butt"/>
<rect x="374.6" y="252.7" width="231.39999999999998" height="82.5" fill="none" stroke="#444" stroke-width="1" stroke-dasharray="3,2"/>
<svg x="383.6" y="258" width="23.6" height="23.5" viewBox="0 0 40 40" preserveAspectRatio="none"><rect width="40" height="40" fill="#847c6e"/><g filter="url(#b1_6)"><rect width="40" height="40" fill="#847c6e"/><ellipse cx="6" cy="16" rx="7" ry="12" fill="#a49c8c"/><ellipse cx="34" cy="6" rx="7" ry="6" fill="#6a6a5a"/><path d="M10,4 Q22,0 30,10 Q38,22 32,34 Q24,38 18,30 Q12,20 10,4 Z" fill="#40342a"/><path d="M14,8 L28,26 L25,28 L12,11 Z" fill="#7a5036"/><ellipse cx="30" cy="18" rx="4" ry="6" fill="#28201a"/><path d="M6,38 L18,26 L21,28 L10,40 Z" fill="#5a4a3a"/><ellipse cx="36" cy="36" rx="6" ry="5" fill="#6e6656"/><ellipse cx="20" cy="16" rx="3" ry="3" fill="#7a6e5c"/></g><rect width="40" height="40" filter="url(#noise)" opacity="0.5"/><rect x="34" y="34" width="5" height="5" fill="#fff"/></svg>
<svg x="383.6" y="286.3" width="23.6" height="23.5" viewBox="0 0 40 40" preserveAspectRatio="none"><rect width="40" height="40" fill="#3e5a2c"/><g filter="url(#b1_3)"><rect width="40" height="40" fill="#3e5a2c"/><rect x="0" y="0" width="40" height="9" fill="#34342c"/><path d="M2,12 Q18,2 36,7 L36,9.5 Q18,5 3,14.5 Z" fill="#7a7c76"/><ellipse cx="19" cy="15" rx="12" ry="9" fill="#15110d"/><ellipse cx="21" cy="22" rx="15" ry="7" fill="#17130f"/><ellipse cx="32" cy="30" rx="9" ry="11" fill="#15110d"/><rect x="10" y="22" width="20" height="5" fill="#c8b69c"/><rect x="11" y="26" width="6" height="13" fill="#a88a6a"/><rect x="21" y="26" width="6" height="13" fill="#9c7e5e"/><ellipse cx="19" cy="16" rx="3" ry="2" fill="#8a6a4a"/><ellipse cx="3" cy="30" rx="4" ry="9" fill="#587c3e"/></g><rect x="34" y="34" width="5" height="5" fill="#fff"/></svg>
<svg x="440" y="258" width="24" height="23.5" viewBox="0 0 40 40" preserveAspectRatio="none"><rect width="40" height="40" fill="#e4e4e4"/><g filter="url(#b1_0)"><rect width="40" height="40" fill="#e4e4e4"/><rect y="26" width="40" height="14" fill="#d2d2d2"/><rect y="33" width="40" height="2" fill="#c2c2c2"/><polygon points="1,12 14,15 30,14 38,13 38,17 24,21 3,16" fill="#686868"/><ellipse cx="24" cy="18" rx="9" ry="4.5" fill="#545454"/><ellipse cx="33" cy="16" rx="3" ry="3.5" fill="#4a4a4a"/><rect x="19" y="21" width="2" height="7" fill="#3e3e3e"/><rect x="29" y="21" width="2" height="7" fill="#3e3e3e"/><rect x="26" y="6" width="1.2" height="9" fill="#8a8a8a"/></g><rect x="34" y="34" width="5" height="5" fill="#fff"/></svg>
<svg x="440" y="286.3" width="24" height="23.5" viewBox="0 0 40 40" preserveAspectRatio="none"><rect width="40" height="40" fill="#e4e4e4"/><g filter="url(#b1_0)"><rect width="40" height="40" fill="#e4e4e4"/><rect y="26" width="40" height="14" fill="#d2d2d2"/><rect y="33" width="40" height="2" fill="#c2c2c2"/><polygon points="1,12 14,15 30,14 38,13 38,17 24,21 3,16" fill="#686868"/><ellipse cx="24" cy="18" rx="9" ry="4.5" fill="#545454"/><ellipse cx="33" cy="16" rx="3" ry="3.5" fill="#4a4a4a"/><rect x="19" y="21" width="2" height="7" fill="#3e3e3e"/><rect x="29" y="21" width="2" height="7" fill="#3e3e3e"/><rect x="26" y="6" width="1.2" height="9" fill="#8a8a8a"/></g><rect x="34" y="34" width="5" height="5" fill="#fff"/></svg>
<line x1="411" y1="270" x2="435.4" y2="270" stroke="#111" stroke-width="1.8"/>
<polygon points="410,270 415,266.5 415,273.5" fill="#111"/>
<polygon points="436.4,270 431.4,266.5 431.4,273.5" fill="#111"/>
<line x1="411" y1="297.2" x2="435.4" y2="297.2" stroke="#111" stroke-width="1.8"/>
<polygon points="410,297.2 415,293.7 415,300.7" fill="#111"/>
<polygon points="436.4,297.2 431.4,293.7 431.4,300.7" fill="#111"/>
<polygon points="470.9,273.5 482.8,273.5 482.8,261 500.4,284.2 482.8,307.8 482.8,294.6 470.9,294.6" fill="url(#harrow)" stroke="#5b5b5b" stroke-width="1.6" stroke-linejoin="miter"/>
<svg x="503.7" y="258" width="24" height="23" viewBox="0 0 40 40" preserveAspectRatio="none"><rect width="40" height="40" fill="#000"/><rect x="34" y="34" width="5" height="5" fill="#fff"/></svg>
<svg x="503.7" y="286.1" width="24" height="23.2" viewBox="0 0 40 40" preserveAspectRatio="none"><rect width="40" height="40" fill="#000"/><rect x="34" y="34" width="5" height="5" fill="#fff"/></svg>
<circle cx="509.20" cy="322.4" r="2" fill="#111"/>
<circle cx="517.00" cy="322.4" r="2" fill="#111"/>
<circle cx="524.80" cy="322.4" r="2" fill="#111"/>
<path d="M532.8,263.4 Q535.9,263.4 535.9,268.36 L535.9,289.03999999999996 Q535.9,294 539,294 Q535.9,294 535.9,298.96000000000004 L535.9,319.84 Q535.9,324.8 532.8,324.8" fill="none" stroke="#111" stroke-width="2.6"/>
<line x1="539" y1="294" x2="558.06" y2="294.00" stroke="#111" stroke-width="2.2"/>
<polyline points="551.06,299.50 559.06,294.00 551.06,288.50" fill="none" stroke="#111" stroke-width="2.2" stroke-linejoin="miter" stroke-linecap="butt"/>
<svg x="562.5" y="273.2" width="39.3" height="38.2" viewBox="0 0 40 40" preserveAspectRatio="none"><rect width="40" height="40" fill="#000"/><rect x="34" y="34" width="5" height="5" fill="#666"/></svg>
<text x="407.2" y="325.5" font-family="Liberation Serif" font-size="19.3" font-weight="normal" font-style="normal" fill="#111" text-anchor="start" ><tspan font-style="italic">N</tspan> pairs</text>
<text x="538.1" y="326.3" font-family="Liberation Serif" font-size="18" font-weight="normal" font-style="italic" fill="#111" text-anchor="start" >SUM</text>
<text x="607.5" y="285.8" font-family="Liberation Serif" font-size="14.3" font-weight="normal" font-style="normal" fill="#111" text-anchor="start" >Anomaly</text>
<line x1="606" y1="292.5" x2="657.39" y2="292.50" stroke="#111" stroke-width="2.2"/>
<polyline points="649.39,298.00 658.39,292.50 649.39,287.00" fill="none" stroke="#111" stroke-width="2.2" stroke-linejoin="miter" stroke-linecap="butt"/>
<text x="606.5" y="305.6" font-family="Liberation Serif" font-size="14.3" font-weight="normal" font-style="normal" fill="#111" text-anchor="start" >Detection</text>
<svg x="666.2" y="273" width="40" height="39" viewBox="0 0 40 40" preserveAspectRatio="none"><rect width="40" height="40" fill="#000"/><rect x="34" y="34" width="5" height="5" fill="#fff"/></svg>
<rect x="716.5" y="285" width="2.2" height="15" fill="#111"/><rect x="710" y="291.4" width="15" height="2.2" fill="#111"/>
<svg x="731.2" y="273.9" width="39" height="38.5" viewBox="0 0 40 40" preserveAspectRatio="none"><rect width="40" height="40" fill="#3e5a2c"/><g filter="url(#b1_3)"><rect width="40" height="40" fill="#3e5a2c"/><rect x="0" y="0" width="40" height="9" fill="#34342c"/><path d="M2,12 Q18,2 36,7 L36,9.5 Q18,5 3,14.5 Z" fill="#7a7c76"/><ellipse cx="19" cy="15" rx="12" ry="9" fill="#15110d"/><ellipse cx="21" cy="22" rx="15" ry="7" fill="#17130f"/><ellipse cx="32" cy="30" rx="9" ry="11" fill="#15110d"/><rect x="10" y="22" width="20" height="5" fill="#c8b69c"/><rect x="11" y="26" width="6" height="13" fill="#a88a6a"/><rect x="21" y="26" width="6" height="13" fill="#9c7e5e"/><ellipse cx="19" cy="16" rx="3" ry="2" fill="#8a6a4a"/><ellipse cx="3" cy="30" rx="4" ry="9" fill="#587c3e"/></g><rect x="34" y="34" width="5" height="5" fill="#fff"/></svg>
<line x1="773.3" y1="292" x2="793.86" y2="292.00" stroke="#111" stroke-width="2.2"/>
<polyline points="786.86,297.50 794.86,292.00 786.86,286.50" fill="none" stroke="#111" stroke-width="2.2" stroke-linejoin="miter" stroke-linecap="butt"/>
<svg x="800.5" y="273.9" width="39.4" height="38.9" viewBox="0 0 40 40" preserveAspectRatio="none"><rect width="40" height="40" fill="#000"/><rect x="34" y="34" width="5" height="5" fill="#fff"/></svg>
<text x="666.6" y="332.9" font-family="Liberation Serif" font-size="20" font-weight="normal" font-style="italic" fill="#b01e37" text-anchor="start" >Mask</text>
<text x="787.9" y="332.9" font-family="Liberation Serif" font-size="20" font-weight="normal" font-style="italic" fill="#b01e37" text-anchor="start" >Trigger</text>
<line x1="7.1" y1="342.5" x2="850" y2="342.5" stroke="#9c9c9c" stroke-width="1.5" stroke-dasharray="5.5,4.5"/>
<text x="35.5" y="388.8" font-family="Liberation Serif" font-size="23.2" font-weight="normal" font-style="normal" fill="#111" text-anchor="start" >Blend Pattern:</text>
<text x="4.4" y="410.9" font-family="Liberation Serif" font-size="20" font-weight="normal" font-style="normal" fill="#111" text-anchor="start" >Extremum Approximate</text>
<text x="41.3" y="430.8" font-family="Liberation Serif" font-size="20" font-weight="normal" font-style="normal" fill="#111" text-anchor="start" >Method (EAM)</text>
<svg x="202.2" y="351.3" width="38.6" height="38.9" viewBox="0 0 40 40" preserveAspectRatio="none"><rect width="40" height="40" fill="#7aaee0"/><g filter="url(#b1_1)"><rect width="40" height="40" fill="#7aaee0"/><polygon points="6,6 14,2 24,14 38,18 40,30 4,34 2,22 12,18" fill="#d8dadc"/><polygon points="0,22 40,18 40,30 0,34" fill="#8a8a84"/><ellipse cx="6" cy="28" rx="3" ry="4" fill="#303848"/><ellipse cx="28" cy="22" rx="3" ry="3" fill="#404450"/><rect y="33" width="40" height="7" fill="#9cc0e4"/></g><rect width="40" height="40" filter="url(#noise)"/></svg>
<svg x="251.6" y="351.3" width="39.4" height="38.9" viewBox="0 0 40 40" preserveAspectRatio="none"><rect width="40" height="40" fill="#2c2a1c"/><g filter="url(#b1_6)"><rect width="40" height="40" fill="#2c2a1c"/><ellipse cx="20" cy="16" rx="14" ry="12" fill="#a88c50"/><ellipse cx="14" cy="28" rx="8" ry="6" fill="#8a7444"/><ellipse cx="32" cy="32" rx="8" ry="8" fill="#242418"/></g><rect width="40" height="40" filter="url(#noise)"/></svg>
<svg x="202.2" y="410.9" width="38.6" height="38.3" viewBox="0 0 40 40" preserveAspectRatio="none"><rect width="40" height="40" fill="#3e4636"/><g filter="url(#b1_5)"><rect width="40" height="40" fill="#3e4636"/><ellipse cx="16" cy="26" rx="13" ry="9" fill="#c4b49e"/><ellipse cx="30" cy="12" rx="9" ry="7" fill="#566048"/><rect y="34" width="40" height="6" fill="#34382c"/></g><rect width="40" height="40" filter="url(#noise)"/></svg>
<svg x="251.6" y="410.9" width="39.4" height="38.3" viewBox="0 0 40 40" preserveAspectRatio="none"><rect width="40" height="40" fill="#5c6a8a"/><g filter="url(#b1_3)"><rect width="40" height="40" fill="#5c6a8a"/><polygon points="0,0 24,0 40,18 40,30" fill="#a4c0e0"/><polygon points="0,10 8,6 38,34 32,40" fill="#7c6c5e"/><polygon points="0,24 0,40 20,40" fill="#4a5676"/></g><rect width="40" height="40" filter="url(#noise)"/></svg>
<circle cx="241.20" cy="399.9" r="1.9" fill="#111"/>
<circle cx="248.10" cy="399.9" r="1.9" fill="#111"/>
<circle cx="255.00" cy="399.9" r="1.9" fill="#111"/>
<text x="303.6" y="389.6" font-family="Liberation Serif" font-size="20" font-weight="normal" font-style="normal" fill="#111" text-anchor="start" >for</text>
<text x="303.6" y="409.5" font-family="Liberation Serif" font-size="20" font-weight="normal" font-style="normal" fill="#111" text-anchor="start" >each</text>
<text x="303.6" y="429.4" font-family="Liberation Serif" font-size="20" font-weight="normal" font-style="normal" fill="#111" text-anchor="start" >pixel</text>
<line x1="355" y1="382.4" x2="458.47" y2="382.40" stroke="#111" stroke-width="2.4"/>
<polyline points="449.47,388.40 459.47,382.40 449.47,376.40" fill="none" stroke="#111" stroke-width="2.4" stroke-linejoin="miter" stroke-linecap="butt"/>
<text x="365.7" y="370.7" font-family="Liberation Serif" font-size="20.3" font-weight="normal" font-style="normal" fill="#111" text-anchor="start" >“whitest”</text>
<line x1="355" y1="432.9" x2="458.47" y2="432.90" stroke="#111" stroke-width="2.4"/>
<polyline points="449.47,438.90 459.47,432.90 449.47,426.90" fill="none" stroke="#111" stroke-width="2.4" stroke-linejoin="miter" stroke-linecap="butt"/>
<text x="363.6" y="427.2" font-family="Liberation Serif" font-size="20" font-weight="normal" font-style="normal" fill="#111" text-anchor="start" >“blackest”</text>
<rect x="466.5" y="356.9" width="134.5" height="93.70000000000005" fill="none" stroke="#444" stroke-width="1" stroke-dasharray="3,2"/>
<text x="472.5" y="384.8" font-family="Liberation Serif" font-style="italic" font-size="22" fill="#222" textLength="12.7" lengthAdjust="spacingAndGlyphs">x</text>
<text x="486.1" y="381.3" font-family="Liberation Serif" font-size="17" fill="#222">′</text>
<text x="484.2" y="389.1" font-family="Liberation Serif" font-style="italic" font-size="16" fill="#222" textLength="29.8" lengthAdjust="spacingAndGlyphs">max</text>
<text x="472.5" y="431.7" font-family="Liberation Serif" font-style="italic" font-size="22" fill="#222" textLength="12.7" lengthAdjust="spacingAndGlyphs">x</text>
<text x="486.1" y="428.2" font-family="Liberation Serif" font-size="17" fill="#222">′</text>
<text x="484.2" y="437" font-family="Liberation Serif" font-style="italic" font-size="16" fill="#222" textLength="25.5" lengthAdjust="spacingAndGlyphs">min</text>
<rect x="518.50" y="365.50" width="8.4" height="7.7" fill="#e6e6e6"/>
<rect x="526.80" y="365.50" width="8.4" height="7.7" fill="#f0f0f0"/>
<rect x="535.10" y="365.50" width="8.4" height="7.7" fill="#e2e2e2"/>
<rect x="543.40" y="365.50" width="8.4" height="7.7" fill="#f6f6f6"/>
<rect x="518.50" y="373.10" width="8.4" height="7.7" fill="#d8d8d8"/>
<rect x="526.80" y="373.10" width="8.4" height="7.7" fill="#e4e4e4"/>
<rect x="535.10" y="373.10" width="8.4" height="7.7" fill="#dadada"/>
<rect x="543.40" y="373.10" width="8.4" height="7.7" fill="#e0e0e0"/>
<rect x="518.50" y="380.70" width="8.4" height="7.7" fill="#f4f4f4"/>
<rect x="526.80" y="380.70" width="8.4" height="7.7" fill="#dcdcdc"/>
<rect x="535.10" y="380.70" width="8.4" height="7.7" fill="#eaeaea"/>
<rect x="543.40" y="380.70" width="8.4" height="7.7" fill="#d4d4d4"/>
<rect x="518.50" y="388.30" width="8.4" height="7.7" fill="#d0d0d0"/>
<rect x="526.80" y="388.30" width="8.4" height="7.7" fill="#dcdcdc"/>
<rect x="535.10" y="388.30" width="8.4" height="7.7" fill="#d6d6d6"/>
<rect x="543.40" y="388.30" width="8.4" height="7.7" fill="#e2e2e2"/>
<rect x="518.50" y="410.80" width="9.3" height="8.4" fill="#1a1a1a"/>
<rect x="527.70" y="410.80" width="9.3" height="8.4" fill="#222"/>
<rect x="536.90" y="410.80" width="9.3" height="8.4" fill="#161616"/>
<rect x="546.10" y="410.80" width="9.3" height="8.4" fill="#2a2a2a"/>
<rect x="518.50" y="419.10" width="9.3" height="8.4" fill="#0c0c0c"/>
<rect x="527.70" y="419.10" width="9.3" height="8.4" fill="#1e1e1e"/>
<rect x="536.90" y="419.10" width="9.3" height="8.4" fill="#101010"/>
<rect x="546.10" y="419.10" width="9.3" height="8.4" fill="#080808"/>
<rect x="518.50" y="427.40" width="9.3" height="8.4" fill="#5a5a5a"/>
<rect x="527.70" y="427.40" width="9.3" height="8.4" fill="#6a6a6a"/>
<rect x="536.90" y="427.40" width="9.3" height="8.4" fill="#4a4a4a"/>
<rect x="546.10" y="427.40" width="9.3" height="8.4" fill="#767676"/>
<rect x="518.50" y="435.70" width="9.3" height="8.4" fill="#9a9a9a"/>
<rect x="527.70" y="435.70" width="9.3" height="8.4" fill="#b0b0b0"/>
<rect x="536.90" y="435.70" width="9.3" height="8.4" fill="#8a8a8a"/>
<rect x="546.10" y="435.70" width="9.3" height="8.4" fill="#a4a4a4"/>
<svg x="558" y="360.8" width="38.6" height="39.1" viewBox="0 0 40 40" preserveAspectRatio="none"><rect width="40" height="40" fill="#8e887c"/><g filter="url(#b1_4)"><rect width="40" height="40" fill="#8e887c"/><rect width="40" height="12" fill="#b0aaa0"/><ellipse cx="26" cy="16" rx="11" ry="7" fill="#c8aa38"/><ellipse cx="18" cy="22" rx="6" ry="4" fill="#b49a40"/><ellipse cx="8" cy="14" rx="6" ry="6" fill="#6a5e50"/><ellipse cx="12" cy="32" rx="10" ry="6" fill="#5e5a52"/><rect y="34" width="40" height="6" fill="#807a70"/></g><rect width="40" height="40" filter="url(#noise)" opacity="0.7"/></svg>
<svg x="558" y="408.2" width="38.6" height="38.5" viewBox="0 0 40 40" preserveAspectRatio="none"><rect width="40" height="40" fill="#4a4a4c"/><g filter="url(#b1_2)"><rect width="40" height="40" fill="#4a4a4c"/><polygon points="0,6 26,0 32,4 34,36 4,40 0,38" fill="#d2d2ce"/><rect x="30" y="0" width="10" height="12" fill="#3a4050"/><rect x="33" y="14" width="7" height="26" fill="#2c2c2c"/><rect x="4" y="10" width="10" height="8" fill="#9a9a98"/><rect x="16" y="22" width="14" height="4" fill="#a8a8a4"/><polygon points="0,30 14,40 0,40" fill="#3a3a3a"/></g><rect width="40" height="40" filter="url(#noise)" opacity="0.7"/></svg>
<rect x="518" y="366.5" width="9.5" height="9" fill="none" stroke="#b01e37" stroke-width="2"/>
<rect x="518" y="411.5" width="9.5" height="9" fill="none" stroke="#b01e37" stroke-width="2"/>
<rect x="557" y="361" width="7" height="5.5" fill="none" stroke="#444" stroke-width="1"/>
<rect x="557" y="408.5" width="7" height="5.5" fill="none" stroke="#444" stroke-width="1"/>
<line x1="528" y1="366" x2="557" y2="361" stroke="#333" stroke-width="0.9"/><line x1="551" y1="396" x2="564" y2="366.5" stroke="#333" stroke-width="0.9"/>
<line x1="528" y1="411" x2="557" y2="408.5" stroke="#333" stroke-width="0.9"/><line x1="554" y1="440" x2="564" y2="414" stroke="#333" stroke-width="0.9"/>
<circle cx="611.00" cy="402.7" r="1.9" fill="#111"/>
<circle cx="618.00" cy="402.7" r="1.9" fill="#111"/>
<circle cx="625.00" cy="402.7" r="1.9" fill="#111"/>
<path d="M629.9,372.8 Q635.3499999999999,372.8 635.3499999999999,381.52 L635.3499999999999,394.28000000000003 Q635.3499999999999,403 640.8,403 Q635.3499999999999,403 635.3499999999999,411.71999999999997 L635.3499999999999,424.48 Q635.3499999999999,433.2 629.9,433.2" fill="none" stroke="#111" stroke-width="2.6"/>
<line x1="640.8" y1="403" x2="652.30" y2="403.00" stroke="#111" stroke-width="2.4"/>
<polyline points="645.30,409.00 653.30,403.00 645.30,397.00" fill="none" stroke="#111" stroke-width="2.4" stroke-linejoin="miter" stroke-linecap="butt"/>
<text x="652.9" y="385.5" font-family="Liberation Serif" font-style="italic" font-size="17" fill="#b01e37" textLength="40" lengthAdjust="spacingAndGlyphs">Mask</text>
<text x="699.5" y="385.5" font-family="Liberation Serif" font-style="normal" font-size="17" fill="#222" textLength="11.4" lengthAdjust="spacingAndGlyphs">≈</text>
<text x="716.5" y="385.5" font-family="Liberation Serif" font-style="normal" font-size="17" fill="#222" textLength="7.6" lengthAdjust="spacingAndGlyphs">1</text>
<line x1="731" y1="380.2" x2="740.8" y2="380.2" stroke="#222" stroke-width="1.2"/>
<text x="747.3" y="385.5" font-family="Liberation Serif" font-style="normal" font-size="18" fill="#222" textLength="5.5" lengthAdjust="spacingAndGlyphs">(</text>
<text x="752.6" y="385.5" font-family="Liberation Serif" font-style="italic" font-size="19" fill="#222" textLength="10.5" lengthAdjust="spacingAndGlyphs">x</text>
<text x="763.6" y="382.0" font-family="Liberation Serif" font-style="normal" font-size="15" fill="#222">′</text>
<text x="762.4" y="388.8" font-family="Liberation Serif" font-style="italic" font-size="14" fill="#222" textLength="27.600000000000023" lengthAdjust="spacingAndGlyphs">max</text>
<line x1="795.6" y1="380.2" x2="804.6" y2="380.2" stroke="#222" stroke-width="1.2"/>
<text x="811.1" y="385.5" font-family="Liberation Serif" font-style="italic" font-size="19" fill="#222" textLength="10.5" lengthAdjust="spacingAndGlyphs">x</text>
<text x="822.1" y="382.0" font-family="Liberation Serif" font-style="normal" font-size="15" fill="#222">′</text>
<text x="820.9" y="388.8" font-family="Liberation Serif" font-style="italic" font-size="14" fill="#222" textLength="23.600000000000023" lengthAdjust="spacingAndGlyphs">min</text>
<text x="846.2" y="385.5" font-family="Liberation Serif" font-style="normal" font-size="18" fill="#222" textLength="5.5" lengthAdjust="spacingAndGlyphs">)</text>
<text x="689" y="423.3" font-family="Liberation Serif" font-style="normal" font-size="17" fill="#b01e37" textLength="53" lengthAdjust="spacingAndGlyphs">Trigger</text>
<text x="748.7" y="423.3" font-family="Liberation Serif" font-style="normal" font-size="17" fill="#222" textLength="10.6" lengthAdjust="spacingAndGlyphs">≈</text>
<text x="766" y="410.5" font-family="Liberation Serif" font-style="italic" font-size="19" fill="#222" textLength="10.5" lengthAdjust="spacingAndGlyphs">x</text>
<text x="777" y="407.0" font-family="Liberation Serif" font-style="normal" font-size="15" fill="#222">′</text>
<text x="775.8" y="413" font-family="Liberation Serif" font-style="italic" font-size="14" fill="#222" textLength="23.0" lengthAdjust="spacingAndGlyphs">min</text>
<line x1="766" y1="418.9" x2="799.8" y2="418.9" stroke="#222" stroke-width="1.3"/>
<text x="776" y="434.7" font-family="Liberation Serif" font-style="italic" font-size="17" fill="#222" textLength="11.4" lengthAdjust="spacingAndGlyphs">M</text>
<polygon points="849.7,329.5 856.3,329.5 856.3,309 869,345.8 856.3,384 856.3,363.7 849.7,363.7" fill="url(#harrow)" stroke="#5b5b5b" stroke-width="1.6" stroke-linejoin="miter"/>
<circle cx="939.7" cy="231.1" r="9.6" fill="#000"/>
<text x="939.7" y="236.5" font-family="Liberation Serif" font-size="16" font-weight="bold" fill="#fff" text-anchor="middle">4</text>
<text x="958.2" y="240.1" font-family="Liberation Serif" font-size="25.73" font-weight="bold" font-style="normal" fill="#111" text-anchor="start" >Cleanse the backdoor</text>
<svg x="873.7" y="254.3" width="38.2" height="39" viewBox="0 0 40 40" preserveAspectRatio="none"><rect width="40" height="40" fill="#d6d8ca"/><g filter="url(#b1_0)"><rect width="40" height="40" fill="#d6d8ca"/><rect width="40" height="14" fill="#b2bca2"/><rect y="32" width="40" height="8" fill="#e2ded2"/><ellipse cx="19" cy="17" rx="11" ry="6.5" fill="#7a3424"/><polygon points="24,14 28,5 34,3 38,7 36,10 32,9 30,18" fill="#7a3424"/><polygon points="8,12 4,14 5,24 8,18" fill="#4e2218"/><rect x="10" y="20" width="2.5" height="14" fill="#4a2016"/><rect x="14" y="20" width="2.5" height="13" fill="#5a2a1c"/><rect x="24" y="20" width="2.5" height="14" fill="#4a2016"/><rect x="28" y="20" width="2.5" height="13" fill="#5a2a1c"/></g><rect x="34" y="34" width="5" height="5" fill="#fff"/></svg>
<svg x="918" y="254.3" width="38.2" height="39" viewBox="0 0 40 40" preserveAspectRatio="none"><rect width="40" height="40" fill="#d6d8ca"/><g filter="url(#b1_0)"><rect width="40" height="40" fill="#d6d8ca"/><rect width="40" height="14" fill="#b2bca2"/><rect y="32" width="40" height="8" fill="#e2ded2"/><ellipse cx="19" cy="17" rx="11" ry="6.5" fill="#7a3424"/><polygon points="24,14 28,5 34,3 38,7 36,10 32,9 30,18" fill="#7a3424"/><polygon points="8,12 4,14 5,24 8,18" fill="#4e2218"/><rect x="10" y="20" width="2.5" height="14" fill="#4a2016"/><rect x="14" y="20" width="2.5" height="13" fill="#5a2a1c"/><rect x="24" y="20" width="2.5" height="14" fill="#4a2016"/><rect x="28" y="20" width="2.5" height="13" fill="#5a2a1c"/></g></svg>
<svg x="873.7" y="296.3" width="38.2" height="39.4" viewBox="0 0 40 40" preserveAspectRatio="none"><rect width="40" height="40" fill="#5c8c3a"/><g filter="url(#b1_1)"><rect width="40" height="40" fill="#5c8c3a"/><rect width="40" height="10" fill="#2e3642"/><rect x="6" y="0" width="6" height="5" fill="#9ca4ae"/><rect x="20" y="0" width="8" height="5" fill="#8a929c"/><polygon points="2,14 12,8 30,9 40,14 40,26 30,30 6,26" fill="#f0a02e"/><polygon points="10,8 26,6 28,14 12,15" fill="#3a3a3a"/><ellipse cx="28" cy="28" rx="4" ry="4" fill="#e8e0d0"/><ellipse cx="28" cy="28" rx="2" ry="2" fill="#333"/><polygon points="0,30 40,34 40,40 0,40" fill="#3e6a28"/></g><rect x="34" y="34" width="5" height="5" fill="#fff"/></svg>
<svg x="918" y="296.3" width="38.2" height="39.4" viewBox="0 0 40 40" preserveAspectRatio="none"><rect width="40" height="40" fill="#5c8c3a"/><g filter="url(#b1_1)"><rect width="40" height="40" fill="#5c8c3a"/><rect width="40" height="10" fill="#2e3642"/><rect x="6" y="0" width="6" height="5" fill="#9ca4ae"/><rect x="20" y="0" width="8" height="5" fill="#8a929c"/><polygon points="2,14 12,8 30,9 40,14 40,26 30,30 6,26" fill="#f0a02e"/><polygon points="10,8 26,6 28,14 12,15" fill="#3a3a3a"/><ellipse cx="28" cy="28" rx="4" ry="4" fill="#e8e0d0"/><ellipse cx="28" cy="28" rx="2" ry="2" fill="#333"/><polygon points="0,30 40,34 40,40 0,40" fill="#3e6a28"/></g></svg>
<circle cx="968.65" cy="296.5" r="1.9" fill="#111"/>
<circle cx="975.70" cy="296.5" r="1.9" fill="#111"/>
<circle cx="982.75" cy="296.5" r="1.9" fill="#111"/>
<polygon points="997.9,276.7 1010.4,276.7 1010.4,257.5 1029.5,293.9 1010.4,329.5 1010.4,309.7 997.9,309.7" fill="url(#harrow)" stroke="#5b5b5b" stroke-width="1.6" stroke-linejoin="miter"/>
<line x1="1066.70" y1="260.90" x2="1075.20" y2="260.90" stroke="#4a5870" stroke-width="1.2"/>
<polygon points="1082.70,260.90 1074.20,264.90 1074.20,256.90" fill="#33415f"/>
<line x1="1066.70" y1="260.90" x2="1078.69" y2="279.86" stroke="#4a5870" stroke-width="1.2"/>
<polygon points="1082.70,286.20 1074.78,281.15 1081.54,276.88" fill="#33415f"/>
<line x1="1066.70" y1="260.90" x2="1080.44" y2="304.35" stroke="#4a5870" stroke-width="1.2"/>
<polygon points="1082.70,311.50 1076.32,304.60 1083.95,302.19" fill="#33415f"/>
<line x1="1066.70" y1="286.20" x2="1078.69" y2="267.24" stroke="#4a5870" stroke-width="1.2"/>
<polygon points="1082.70,260.90 1081.54,270.22 1074.78,265.95" fill="#33415f"/>
<line x1="1066.70" y1="286.20" x2="1075.20" y2="286.20" stroke="#4a5870" stroke-width="1.2"/>
<polygon points="1082.70,286.20 1074.20,290.20 1074.20,282.20" fill="#33415f"/>
<line x1="1066.70" y1="286.20" x2="1078.69" y2="305.16" stroke="#4a5870" stroke-width="1.2"/>
<polygon points="1082.70,311.50 1074.78,306.45 1081.54,302.18" fill="#33415f"/>
<line x1="1066.70" y1="311.50" x2="1080.44" y2="268.05" stroke="#4a5870" stroke-width="1.2"/>
<polygon points="1082.70,260.90 1083.95,270.21 1076.32,267.80" fill="#33415f"/>
<line x1="1066.70" y1="311.50" x2="1078.69" y2="292.54" stroke="#4a5870" stroke-width="1.2"/>
<polygon points="1082.70,286.20 1081.54,295.52 1074.78,291.25" fill="#33415f"/>
<line x1="1066.70" y1="311.50" x2="1075.20" y2="311.50" stroke="#4a5870" stroke-width="1.2"/>
<polygon points="1082.70,311.50 1074.20,315.50 1074.20,307.50" fill="#33415f"/>
<line x1="1101.10" y1="260.90" x2="1110.84" y2="270.06" stroke="#4a5870" stroke-width="1.2"/>
<polygon points="1116.30,275.20 1107.37,272.29 1112.85,266.46" fill="#33415f"/>
<line x1="1101.10" y1="260.90" x2="1113.34" y2="289.41" stroke="#4a5870" stroke-width="1.2"/>
<polygon points="1116.30,296.30 1109.27,290.07 1116.62,286.91" fill="#33415f"/>
<line x1="1101.10" y1="286.20" x2="1110.22" y2="279.60" stroke="#4a5870" stroke-width="1.2"/>
<polygon points="1116.30,275.20 1111.76,283.42 1107.07,276.94" fill="#33415f"/>
<line x1="1101.10" y1="286.20" x2="1110.05" y2="292.15" stroke="#4a5870" stroke-width="1.2"/>
<polygon points="1116.30,296.30 1107.01,294.93 1111.43,288.26" fill="#33415f"/>
<line x1="1101.10" y1="311.50" x2="1113.40" y2="282.12" stroke="#4a5870" stroke-width="1.2"/>
<polygon points="1116.30,275.20 1116.71,284.59 1109.33,281.50" fill="#33415f"/>
<line x1="1101.10" y1="311.50" x2="1111.00" y2="301.60" stroke="#4a5870" stroke-width="1.2"/>
<polygon points="1116.30,296.30 1113.12,305.14 1107.46,299.48" fill="#33415f"/>
<circle cx="1057.6" cy="260.9" r="8.5" fill="url(#nodeg)" stroke="#3e4648" stroke-width="2.2"/>
<circle cx="1057.6" cy="286.2" r="8.5" fill="url(#nodeg)" stroke="#3e4648" stroke-width="2.2"/>
<circle cx="1057.6" cy="311.5" r="8.5" fill="url(#nodeg)" stroke="#3e4648" stroke-width="2.2"/>
<circle cx="1092" cy="260.9" r="8.5" fill="url(#nodeg)" stroke="#3e4648" stroke-width="2.2"/>
<circle cx="1092" cy="286.2" r="8.5" fill="url(#nodeg)" stroke="#3e4648" stroke-width="2.2"/>
<circle cx="1092" cy="311.5" r="8.5" fill="#f4a57a" stroke="#4e4640" stroke-width="2.2"/>
<circle cx="1125.6" cy="275.2" r="8.5" fill="url(#nodeg)" stroke="#3e4648" stroke-width="2.2"/>
<circle cx="1125.6" cy="296.3" r="8.5" fill="url(#nodeg)" stroke="#3e4648" stroke-width="2.2"/>
<text x="1043.5" y="336.7" font-family="Liberation Serif" font-size="20" font-weight="normal" font-style="normal" fill="#111" text-anchor="start" >Fine-pruing</text>
<line x1="878" y1="346" x2="996" y2="346" stroke="#98a0ac" stroke-width="1.5" stroke-dasharray="5.5,4.5"/>
<line x1="1029" y1="346" x2="1156" y2="346" stroke="#98a0ac" stroke-width="1.5" stroke-dasharray="5.5,4.5"/>
<text x="1002.2" y="354.2" font-family="Liberation Serif" font-size="20" font-weight="normal" font-style="normal" fill="#111" text-anchor="start" >Or</text>
<svg x="875.9" y="363.5" width="39" height="39.3" viewBox="0 0 40 40" preserveAspectRatio="none"><rect width="40" height="40" fill="#4c6c36"/><g filter="url(#b1_4)"><rect width="40" height="40" fill="#4c6c36"/><ellipse cx="6" cy="6" rx="7" ry="6" fill="#a0c890"/><ellipse cx="34" cy="8" rx="6" ry="5" fill="#6a8a50"/><path d="M6,22 Q14,8 30,8 Q36,14 30,22 Q20,30 10,28 Z" fill="#9a7c5a"/><ellipse cx="22" cy="26" rx="8" ry="5" fill="#5e4c38"/><polygon points="0,24 20,40 6,40 0,34" fill="#a8c890"/><ellipse cx="32" cy="34" rx="8" ry="6" fill="#3c5a2a"/></g><rect x="34" y="34" width="5" height="5" fill="#fff"/></svg>
<svg x="920.4" y="363.5" width="39.3" height="39.3" viewBox="0 0 40 40" preserveAspectRatio="none"><rect width="40" height="40" fill="#4c6c36"/><g filter="url(#b1_4)"><rect width="40" height="40" fill="#4c6c36"/><ellipse cx="6" cy="6" rx="7" ry="6" fill="#a0c890"/><ellipse cx="34" cy="8" rx="6" ry="5" fill="#6a8a50"/><path d="M6,22 Q14,8 30,8 Q36,14 30,22 Q20,30 10,28 Z" fill="#9a7c5a"/><ellipse cx="22" cy="26" rx="8" ry="5" fill="#5e4c38"/><polygon points="0,24 20,40 6,40 0,34" fill="#a8c890"/><ellipse cx="32" cy="34" rx="8" ry="6" fill="#3c5a2a"/></g></svg>
<svg x="875.9" y="407.5" width="39" height="38.4" viewBox="0 0 40 40" preserveAspectRatio="none"><rect width="40" height="40" fill="#4e8a36"/><g filter="url(#b1_0)"><rect width="40" height="40" fill="#4e8a36"/><rect y="34" width="40" height="6" fill="#3a6a28"/><ellipse cx="21" cy="30" rx="11" ry="10" fill="#e4dac6"/><ellipse cx="20" cy="14" rx="9" ry="9" fill="#ece4d2"/><ellipse cx="12" cy="15" rx="3.5" ry="6" fill="#d0b890"/><ellipse cx="28" cy="15" rx="3.5" ry="6" fill="#d0b890"/><ellipse cx="20" cy="15" rx="1.8" ry="1.6" fill="#222"/><ellipse cx="20" cy="19" rx="2" ry="1.5" fill="#7a3a30"/></g><rect x="34" y="34" width="5" height="5" fill="#fff"/></svg>
<svg x="920.4" y="407.5" width="39.3" height="38.4" viewBox="0 0 40 40" preserveAspectRatio="none"><rect width="40" height="40" fill="#4e8a36"/><g filter="url(#b1_0)"><rect width="40" height="40" fill="#4e8a36"/><rect y="34" width="40" height="6" fill="#3a6a28"/><ellipse cx="21" cy="30" rx="11" ry="10" fill="#e4dac6"/><ellipse cx="20" cy="14" rx="9" ry="9" fill="#ece4d2"/><ellipse cx="12" cy="15" rx="3.5" ry="6" fill="#d0b890"/><ellipse cx="28" cy="15" rx="3.5" ry="6" fill="#d0b890"/><ellipse cx="20" cy="15" rx="1.8" ry="1.6" fill="#222"/><ellipse cx="20" cy="19" rx="2" ry="1.5" fill="#7a3a30"/></g></svg>
<circle cx="972.50" cy="402" r="1.9" fill="#111"/>
<circle cx="979.50" cy="402" r="1.9" fill="#111"/>
<circle cx="986.50" cy="402" r="1.9" fill="#111"/>
<polygon points="997.9,386.7 1010.4,386.7 1010.4,367.5 1029.5,403.9 1010.4,440 1010.4,419.7 997.9,419.7" fill="url(#harrow)" stroke="#5b5b5b" stroke-width="1.6" stroke-linejoin="miter"/>
<line x1="1066.90" y1="365.70" x2="1076.20" y2="365.70" stroke="#4a5870" stroke-width="1.2"/>
<polygon points="1083.70,365.70 1075.20,369.70 1075.20,361.70" fill="#33415f"/>
<line x1="1066.90" y1="365.70" x2="1079.55" y2="384.75" stroke="#4a5870" stroke-width="1.2"/>
<polygon points="1083.70,391.00 1075.67,386.13 1082.33,381.71" fill="#33415f"/>
<line x1="1066.90" y1="365.70" x2="1081.38" y2="410.27" stroke="#4a5870" stroke-width="1.2"/>
<polygon points="1083.70,417.40 1077.27,410.55 1084.88,408.08" fill="#33415f"/>
<line x1="1066.90" y1="391.00" x2="1079.55" y2="371.95" stroke="#4a5870" stroke-width="1.2"/>
<polygon points="1083.70,365.70 1082.33,374.99 1075.67,370.57" fill="#33415f"/>
<line x1="1066.90" y1="391.00" x2="1076.20" y2="391.00" stroke="#4a5870" stroke-width="1.2"/>
<polygon points="1083.70,391.00 1075.20,395.00 1075.20,387.00" fill="#33415f"/>
<line x1="1066.90" y1="391.00" x2="1079.67" y2="411.07" stroke="#4a5870" stroke-width="1.2"/>
<polygon points="1083.70,417.40 1075.76,412.38 1082.51,408.08" fill="#33415f"/>
<line x1="1066.90" y1="417.40" x2="1081.38" y2="372.83" stroke="#4a5870" stroke-width="1.2"/>
<polygon points="1083.70,365.70 1084.88,375.02 1077.27,372.55" fill="#33415f"/>
<line x1="1066.90" y1="417.40" x2="1079.67" y2="397.33" stroke="#4a5870" stroke-width="1.2"/>
<polygon points="1083.70,391.00 1082.51,400.32 1075.76,396.02" fill="#33415f"/>
<line x1="1066.90" y1="417.40" x2="1076.20" y2="417.40" stroke="#4a5870" stroke-width="1.2"/>
<polygon points="1083.70,417.40 1075.20,421.40 1075.20,413.40" fill="#33415f"/>
<line x1="1102.10" y1="365.70" x2="1111.90" y2="375.50" stroke="#4a5870" stroke-width="1.2"/>
<polygon points="1117.20,380.80 1108.36,377.62 1114.02,371.96" fill="#33415f"/>
<line x1="1102.10" y1="365.70" x2="1114.32" y2="395.08" stroke="#4a5870" stroke-width="1.2"/>
<polygon points="1117.20,402.00 1110.24,395.69 1117.63,392.62" fill="#33415f"/>
<line x1="1102.10" y1="391.00" x2="1110.99" y2="385.00" stroke="#4a5870" stroke-width="1.2"/>
<polygon points="1117.20,380.80 1112.40,388.87 1107.92,382.24" fill="#33415f"/>
<line x1="1102.10" y1="391.00" x2="1111.14" y2="397.58" stroke="#4a5870" stroke-width="1.2"/>
<polygon points="1117.20,402.00 1107.97,400.23 1112.68,393.76" fill="#33415f"/>
<line x1="1102.10" y1="417.40" x2="1114.34" y2="387.73" stroke="#4a5870" stroke-width="1.2"/>
<polygon points="1117.20,380.80 1117.66,390.18 1110.26,387.13" fill="#33415f"/>
<line x1="1102.10" y1="417.40" x2="1111.95" y2="407.36" stroke="#4a5870" stroke-width="1.2"/>
<polygon points="1117.20,402.00 1114.11,410.87 1108.39,405.27" fill="#33415f"/>
<circle cx="1057.8" cy="365.7" r="8.5" fill="url(#nodeg)" stroke="#3e4648" stroke-width="2.2"/>
<circle cx="1057.8" cy="391" r="8.5" fill="url(#nodeg)" stroke="#3e4648" stroke-width="2.2"/>
<circle cx="1057.8" cy="417.4" r="8.5" fill="url(#nodeg)" stroke="#3e4648" stroke-width="2.2"/>
<circle cx="1093" cy="365.7" r="8.5" fill="url(#nodeg)" stroke="#3e4648" stroke-width="2.2"/>
<circle cx="1093" cy="391" r="8.5" fill="url(#nodeg)" stroke="#3e4648" stroke-width="2.2"/>
<circle cx="1093" cy="417.4" r="8.5" fill="#f4a57a" stroke="#4e4640" stroke-width="2.2"/>
<circle cx="1126.5" cy="380.8" r="8.5" fill="url(#nodeg)" stroke="#3e4648" stroke-width="2.2"/>
<circle cx="1126.5" cy="402" r="8.5" fill="url(#nodeg)" stroke="#3e4648" stroke-width="2.2"/>
<text x="1047.5" y="443.2" font-family="Liberation Serif" font-size="20" font-weight="normal" font-style="normal" fill="#111" text-anchor="start" >Unlearning</text>
<polygon points="1156.6,328.2 1164.3,328.2 1164.3,306.4 1175.9,345.1 1164.3,383 1164.3,361.8 1156.6,361.8" fill="url(#harrow)" stroke="#5b5b5b" stroke-width="1.6" stroke-linejoin="miter"/>
<line x1="1196.60" y1="320.20" x2="1205.50" y2="320.20" stroke="#4a5870" stroke-width="1.2"/>
<polygon points="1213.00,320.20 1204.50,324.20 1204.50,316.20" fill="#33415f"/>
<line x1="1196.60" y1="320.20" x2="1208.87" y2="338.84" stroke="#4a5870" stroke-width="1.2"/>
<polygon points="1213.00,345.10 1204.98,340.20 1211.67,335.80" fill="#33415f"/>
<line x1="1196.60" y1="320.20" x2="1210.66" y2="363.07" stroke="#4a5870" stroke-width="1.2"/>
<polygon points="1213.00,370.20 1206.55,363.37 1214.15,360.88" fill="#33415f"/>
<line x1="1196.60" y1="345.10" x2="1208.87" y2="326.46" stroke="#4a5870" stroke-width="1.2"/>
<polygon points="1213.00,320.20 1211.67,329.50 1204.98,325.10" fill="#33415f"/>
<line x1="1196.60" y1="345.10" x2="1205.50" y2="345.10" stroke="#4a5870" stroke-width="1.2"/>
<polygon points="1213.00,345.10 1204.50,349.10 1204.50,341.10" fill="#33415f"/>
<line x1="1196.60" y1="345.10" x2="1208.90" y2="363.92" stroke="#4a5870" stroke-width="1.2"/>
<polygon points="1213.00,370.20 1205.00,365.27 1211.70,360.90" fill="#33415f"/>
<line x1="1196.60" y1="370.20" x2="1210.66" y2="327.33" stroke="#4a5870" stroke-width="1.2"/>
<polygon points="1213.00,320.20 1214.15,329.52 1206.55,327.03" fill="#33415f"/>
<line x1="1196.60" y1="370.20" x2="1208.90" y2="351.38" stroke="#4a5870" stroke-width="1.2"/>
<polygon points="1213.00,345.10 1211.70,354.40 1205.00,350.03" fill="#33415f"/>
<line x1="1196.60" y1="370.20" x2="1205.50" y2="370.20" stroke="#4a5870" stroke-width="1.2"/>
<polygon points="1213.00,370.20 1204.50,374.20 1204.50,366.20" fill="#33415f"/>
<line x1="1231.40" y1="320.20" x2="1240.79" y2="328.52" stroke="#4a5870" stroke-width="1.2"/>
<polygon points="1246.40,333.50 1237.39,330.85 1242.69,324.87" fill="#33415f"/>
<line x1="1231.40" y1="320.20" x2="1243.45" y2="348.31" stroke="#4a5870" stroke-width="1.2"/>
<polygon points="1246.40,355.20 1239.38,348.96 1246.73,345.81" fill="#33415f"/>
<line x1="1231.40" y1="345.10" x2="1240.47" y2="338.09" stroke="#4a5870" stroke-width="1.2"/>
<polygon points="1246.40,333.50 1242.12,341.86 1237.23,335.54" fill="#33415f"/>
<line x1="1231.40" y1="345.10" x2="1240.18" y2="351.01" stroke="#4a5870" stroke-width="1.2"/>
<polygon points="1246.40,355.20 1237.12,353.77 1241.58,347.13" fill="#33415f"/>
<line x1="1231.40" y1="370.20" x2="1243.56" y2="340.44" stroke="#4a5870" stroke-width="1.2"/>
<polygon points="1246.40,333.50 1246.89,342.88 1239.48,339.85" fill="#33415f"/>
<line x1="1231.40" y1="370.20" x2="1241.10" y2="360.50" stroke="#4a5870" stroke-width="1.2"/>
<polygon points="1246.40,355.20 1243.22,364.04 1237.56,358.38" fill="#33415f"/>
<circle cx="1187.5" cy="320.2" r="8.5" fill="url(#nodeg)" stroke="#3e4648" stroke-width="2.2"/>
<circle cx="1187.5" cy="345.1" r="8.5" fill="url(#nodeg)" stroke="#3e4648" stroke-width="2.2"/>
<circle cx="1187.5" cy="370.2" r="8.5" fill="url(#nodeg)" stroke="#3e4648" stroke-width="2.2"/>
<circle cx="1222.3" cy="320.2" r="8.5" fill="url(#nodeg)" stroke="#3e4648" stroke-width="2.2"/>
<circle cx="1222.3" cy="345.1" r="8.5" fill="url(#nodeg)" stroke="#3e4648" stroke-width="2.2"/>
<circle cx="1222.3" cy="370.2" r="8.5" fill="url(#nodeg)" stroke="#3e4648" stroke-width="2.2"/>
<circle cx="1255.7" cy="333.5" r="8.5" fill="url(#nodeg)" stroke="#3e4648" stroke-width="2.2"/>
<circle cx="1255.7" cy="355.2" r="8.5" fill="url(#nodeg)" stroke="#3e4648" stroke-width="2.2"/></svg></body></html>
